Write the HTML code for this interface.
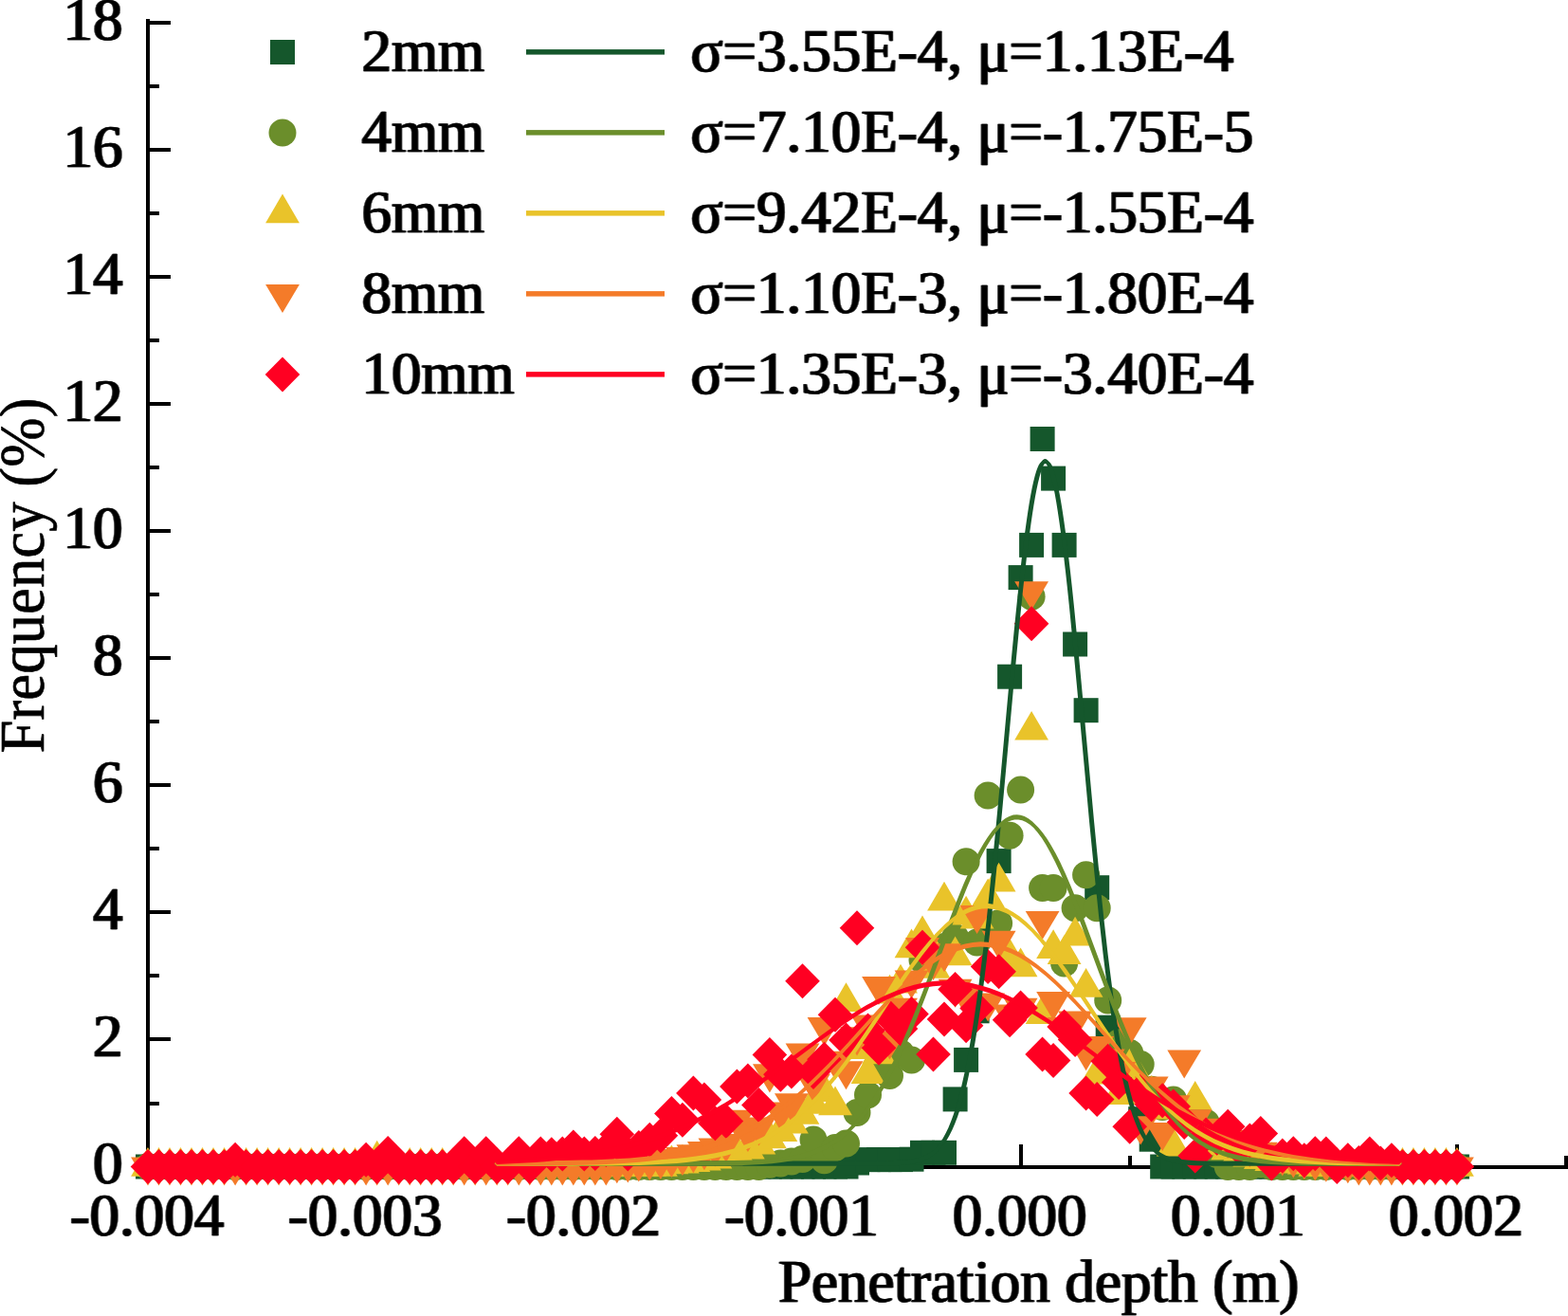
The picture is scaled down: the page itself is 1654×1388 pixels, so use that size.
<!DOCTYPE html>
<html lang="en"><head><meta charset="utf-8"><title>Penetration depth frequency</title>
<style>html,body{margin:0;padding:0;background:#fff;}body{width:1654px;height:1388px;overflow:hidden;}svg{display:block;}text{font-family:"Liberation Serif","DejaVu Serif",serif;font-size:63px;fill:#000;stroke:#000;stroke-width:0.4px;paint-order:stroke;stroke-linejoin:round;}</style></head><body>
<svg width="1654" height="1388" viewBox="0 0 1654 1388">
<defs><filter id="hb" x="-10%" y="-10%" width="120%" height="120%"><feMorphology in="SourceGraphic" operator="dilate" radius="1 0" result="d"/><feComponentTransfer in="d" result="e"><feFuncA type="linear" slope="0.8"/></feComponentTransfer><feMerge><feMergeNode in="e"/><feMergeNode in="SourceGraphic"/></feMerge></filter></defs>
<rect x="0" y="0" width="1654" height="1388" fill="#fff"/>
<g id="axes" fill="#000" shape-rendering="crispEdges">
<rect x="154" y="20" width="4" height="1212.5"/>
<rect x="154" y="1228.5" width="1500" height="4"/>
<rect x="158" y="1228.5" width="22" height="4"/>
<rect x="158" y="1161.5" width="10" height="4"/>
<rect x="158" y="1094.4" width="22" height="4"/>
<rect x="158" y="1027.4" width="10" height="4"/>
<rect x="158" y="960.4" width="22" height="4"/>
<rect x="158" y="893.4" width="10" height="4"/>
<rect x="158" y="826.3" width="22" height="4"/>
<rect x="158" y="759.3" width="10" height="4"/>
<rect x="158" y="692.3" width="22" height="4"/>
<rect x="158" y="625.2" width="10" height="4"/>
<rect x="158" y="558.2" width="22" height="4"/>
<rect x="158" y="491.2" width="10" height="4"/>
<rect x="158" y="424.1" width="22" height="4"/>
<rect x="158" y="357.1" width="10" height="4"/>
<rect x="158" y="290.1" width="22" height="4"/>
<rect x="158" y="223.0" width="10" height="4"/>
<rect x="158" y="156.0" width="22" height="4"/>
<rect x="158" y="89.0" width="10" height="4"/>
<rect x="158" y="22.0" width="22" height="4"/>
<rect x="154.0" y="1206.5" width="4" height="22"/>
<rect x="269.1" y="1218.5" width="4" height="10"/>
<rect x="384.1" y="1206.5" width="4" height="22"/>
<rect x="499.2" y="1218.5" width="4" height="10"/>
<rect x="614.3" y="1206.5" width="4" height="22"/>
<rect x="729.4" y="1218.5" width="4" height="10"/>
<rect x="844.5" y="1206.5" width="4" height="22"/>
<rect x="959.5" y="1218.5" width="4" height="10"/>
<rect x="1074.6" y="1206.5" width="4" height="22"/>
<rect x="1189.7" y="1218.5" width="4" height="10"/>
<rect x="1304.8" y="1206.5" width="4" height="22"/>
<rect x="1419.8" y="1218.5" width="4" height="10"/>
<rect x="1534.9" y="1206.5" width="4" height="22"/>
<rect x="1650.0" y="1218.5" width="4" height="10"/>
</g>
<g id="ylabels" text-anchor="end" filter="url(#hb)">
<text x="129.5" y="1248.2">0</text>
<text x="129.5" y="1114.1">2</text>
<text x="129.5" y="980.1">4</text>
<text x="129.5" y="846.0">6</text>
<text x="129.5" y="712.0">8</text>
<text x="129.5" y="577.9">10</text>
<text x="129.5" y="443.8">12</text>
<text x="129.5" y="309.8">14</text>
<text x="129.5" y="175.7">16</text>
<text x="129.5" y="41.7">18</text>
</g>
<g id="xlabels" text-anchor="middle" filter="url(#hb)">
<text x="155.0" y="1302.8">-0.004</text>
<text x="385.1" y="1302.8">-0.003</text>
<text x="615.3" y="1302.8">-0.002</text>
<text x="845.5" y="1302.8">-0.001</text>
<text x="1075.6" y="1302.8">0.000</text>
<text x="1305.8" y="1302.8">0.001</text>
<text x="1535.9" y="1302.8">0.002</text>
</g>
<text id="xtitle" filter="url(#hb)" x="820.9" y="1373">Penetration depth (m)</text>
<text id="ytitle" style="stroke-width:0.6px" transform="translate(45.8,794.6) rotate(-90) scale(0.9975,1.08)">Frequency (%)</text>
<g id="pts-s">
<rect x="143.0" y="1217.5" width="26" height="26" fill="#15572c"/>
<rect x="154.5" y="1217.5" width="26" height="26" fill="#15572c"/>
<rect x="166.0" y="1217.5" width="26" height="26" fill="#15572c"/>
<rect x="177.5" y="1217.5" width="26" height="26" fill="#15572c"/>
<rect x="189.0" y="1217.5" width="26" height="26" fill="#15572c"/>
<rect x="200.5" y="1217.5" width="26" height="26" fill="#15572c"/>
<rect x="212.0" y="1217.5" width="26" height="26" fill="#15572c"/>
<rect x="223.6" y="1217.5" width="26" height="26" fill="#15572c"/>
<rect x="235.1" y="1217.5" width="26" height="26" fill="#15572c"/>
<rect x="246.6" y="1217.5" width="26" height="26" fill="#15572c"/>
<rect x="258.1" y="1217.5" width="26" height="26" fill="#15572c"/>
<rect x="269.6" y="1217.5" width="26" height="26" fill="#15572c"/>
<rect x="281.1" y="1217.5" width="26" height="26" fill="#15572c"/>
<rect x="292.6" y="1217.5" width="26" height="26" fill="#15572c"/>
<rect x="304.1" y="1217.5" width="26" height="26" fill="#15572c"/>
<rect x="315.6" y="1217.5" width="26" height="26" fill="#15572c"/>
<rect x="327.1" y="1217.5" width="26" height="26" fill="#15572c"/>
<rect x="338.6" y="1217.5" width="26" height="26" fill="#15572c"/>
<rect x="350.1" y="1217.5" width="26" height="26" fill="#15572c"/>
<rect x="361.6" y="1217.5" width="26" height="26" fill="#15572c"/>
<rect x="373.1" y="1217.5" width="26" height="26" fill="#15572c"/>
<rect x="384.7" y="1217.5" width="26" height="26" fill="#15572c"/>
<rect x="396.2" y="1217.5" width="26" height="26" fill="#15572c"/>
<rect x="407.7" y="1217.5" width="26" height="26" fill="#15572c"/>
<rect x="419.2" y="1217.5" width="26" height="26" fill="#15572c"/>
<rect x="430.7" y="1217.5" width="26" height="26" fill="#15572c"/>
<rect x="442.2" y="1217.5" width="26" height="26" fill="#15572c"/>
<rect x="453.7" y="1217.5" width="26" height="26" fill="#15572c"/>
<rect x="465.2" y="1217.5" width="26" height="26" fill="#15572c"/>
<rect x="476.7" y="1217.5" width="26" height="26" fill="#15572c"/>
<rect x="488.2" y="1217.5" width="26" height="26" fill="#15572c"/>
<rect x="499.7" y="1217.5" width="26" height="26" fill="#15572c"/>
<rect x="511.2" y="1217.5" width="26" height="26" fill="#15572c"/>
<rect x="522.7" y="1217.5" width="26" height="26" fill="#15572c"/>
<rect x="534.3" y="1217.5" width="26" height="26" fill="#15572c"/>
<rect x="545.8" y="1217.5" width="26" height="26" fill="#15572c"/>
<rect x="557.3" y="1217.5" width="26" height="26" fill="#15572c"/>
<rect x="568.8" y="1217.5" width="26" height="26" fill="#15572c"/>
<rect x="580.3" y="1217.5" width="26" height="26" fill="#15572c"/>
<rect x="591.8" y="1217.5" width="26" height="26" fill="#15572c"/>
<rect x="603.3" y="1217.5" width="26" height="26" fill="#15572c"/>
<rect x="614.8" y="1217.5" width="26" height="26" fill="#15572c"/>
<rect x="626.3" y="1217.5" width="26" height="26" fill="#15572c"/>
<rect x="637.8" y="1217.5" width="26" height="26" fill="#15572c"/>
<rect x="649.3" y="1217.5" width="26" height="26" fill="#15572c"/>
<rect x="660.8" y="1217.5" width="26" height="26" fill="#15572c"/>
<rect x="672.3" y="1217.5" width="26" height="26" fill="#15572c"/>
<rect x="683.9" y="1217.5" width="26" height="26" fill="#15572c"/>
<rect x="695.4" y="1217.5" width="26" height="26" fill="#15572c"/>
<rect x="706.9" y="1217.5" width="26" height="26" fill="#15572c"/>
<rect x="718.4" y="1217.5" width="26" height="26" fill="#15572c"/>
<rect x="729.9" y="1217.5" width="26" height="26" fill="#15572c"/>
<rect x="741.4" y="1217.5" width="26" height="26" fill="#15572c"/>
<rect x="752.9" y="1217.5" width="26" height="26" fill="#15572c"/>
<rect x="764.4" y="1217.5" width="26" height="26" fill="#15572c"/>
<rect x="775.9" y="1217.5" width="26" height="26" fill="#15572c"/>
<rect x="787.4" y="1217.5" width="26" height="26" fill="#15572c"/>
<rect x="798.9" y="1217.5" width="26" height="26" fill="#15572c"/>
<rect x="810.4" y="1217.5" width="26" height="26" fill="#15572c"/>
<rect x="821.9" y="1217.5" width="26" height="26" fill="#15572c"/>
<rect x="833.5" y="1217.5" width="26" height="26" fill="#15572c"/>
<rect x="845.0" y="1217.5" width="26" height="26" fill="#15572c"/>
<rect x="856.5" y="1217.5" width="26" height="26" fill="#15572c"/>
<rect x="868.0" y="1217.5" width="26" height="26" fill="#15572c"/>
<rect x="879.5" y="1217.5" width="26" height="26" fill="#15572c"/>
<rect x="891.0" y="1213.5" width="26" height="26" fill="#15572c"/>
<rect x="902.5" y="1210.1" width="26" height="26" fill="#15572c"/>
<rect x="914.0" y="1210.1" width="26" height="26" fill="#15572c"/>
<rect x="925.5" y="1210.1" width="26" height="26" fill="#15572c"/>
<rect x="937.0" y="1210.1" width="26" height="26" fill="#15572c"/>
<rect x="948.5" y="1209.7" width="26" height="26" fill="#15572c"/>
<rect x="960.0" y="1202.8" width="26" height="26" fill="#15572c"/>
<rect x="971.5" y="1202.8" width="26" height="26" fill="#15572c"/>
<rect x="983.0" y="1202.8" width="26" height="26" fill="#15572c"/>
<rect x="994.6" y="1146.4" width="26" height="26" fill="#15572c"/>
<rect x="1006.1" y="1104.9" width="26" height="26" fill="#15572c"/>
<rect x="1017.6" y="1053.3" width="26" height="26" fill="#15572c"/>
<rect x="1029.1" y="962.8" width="26" height="26" fill="#15572c"/>
<rect x="1040.6" y="895.1" width="26" height="26" fill="#15572c"/>
<rect x="1052.1" y="700.7" width="26" height="26" fill="#15572c"/>
<rect x="1063.6" y="596.1" width="26" height="26" fill="#15572c"/>
<rect x="1075.1" y="561.9" width="26" height="26" fill="#15572c"/>
<rect x="1086.6" y="450.0" width="26" height="26" fill="#15572c"/>
<rect x="1098.1" y="491.6" width="26" height="26" fill="#15572c"/>
<rect x="1109.6" y="561.9" width="26" height="26" fill="#15572c"/>
<rect x="1121.1" y="666.5" width="26" height="26" fill="#15572c"/>
<rect x="1132.6" y="736.2" width="26" height="26" fill="#15572c"/>
<rect x="1144.2" y="923.2" width="26" height="26" fill="#15572c"/>
<rect x="1155.7" y="1070.7" width="26" height="26" fill="#15572c"/>
<rect x="1167.2" y="1100.2" width="26" height="26" fill="#15572c"/>
<rect x="1178.7" y="1120.3" width="26" height="26" fill="#15572c"/>
<rect x="1190.2" y="1167.2" width="26" height="26" fill="#15572c"/>
<rect x="1201.7" y="1188.7" width="26" height="26" fill="#15572c"/>
<rect x="1213.2" y="1217.5" width="26" height="26" fill="#15572c"/>
<rect x="1224.7" y="1217.5" width="26" height="26" fill="#15572c"/>
<rect x="1236.2" y="1217.5" width="26" height="26" fill="#15572c"/>
<rect x="1247.7" y="1217.5" width="26" height="26" fill="#15572c"/>
<rect x="1259.2" y="1217.5" width="26" height="26" fill="#15572c"/>
<rect x="1270.7" y="1217.5" width="26" height="26" fill="#15572c"/>
<rect x="1282.2" y="1217.5" width="26" height="26" fill="#15572c"/>
<rect x="1293.8" y="1217.5" width="26" height="26" fill="#15572c"/>
<rect x="1305.3" y="1217.5" width="26" height="26" fill="#15572c"/>
<rect x="1316.8" y="1217.5" width="26" height="26" fill="#15572c"/>
<rect x="1328.3" y="1217.5" width="26" height="26" fill="#15572c"/>
<rect x="1339.8" y="1217.5" width="26" height="26" fill="#15572c"/>
<rect x="1351.3" y="1217.5" width="26" height="26" fill="#15572c"/>
<rect x="1362.8" y="1217.5" width="26" height="26" fill="#15572c"/>
<rect x="1374.3" y="1217.5" width="26" height="26" fill="#15572c"/>
<rect x="1385.8" y="1217.5" width="26" height="26" fill="#15572c"/>
<rect x="1397.3" y="1217.5" width="26" height="26" fill="#15572c"/>
<rect x="1408.8" y="1217.5" width="26" height="26" fill="#15572c"/>
<rect x="1420.3" y="1217.5" width="26" height="26" fill="#15572c"/>
<rect x="1431.8" y="1217.5" width="26" height="26" fill="#15572c"/>
<rect x="1443.3" y="1217.5" width="26" height="26" fill="#15572c"/>
<rect x="1454.9" y="1217.5" width="26" height="26" fill="#15572c"/>
<rect x="1466.4" y="1217.5" width="26" height="26" fill="#15572c"/>
<rect x="1477.9" y="1217.5" width="26" height="26" fill="#15572c"/>
<rect x="1489.4" y="1217.5" width="26" height="26" fill="#15572c"/>
<rect x="1500.9" y="1217.5" width="26" height="26" fill="#15572c"/>
<rect x="1512.4" y="1217.5" width="26" height="26" fill="#15572c"/>
<rect x="1523.9" y="1217.5" width="26" height="26" fill="#15572c"/>
</g>
<g id="pts-c">
<circle cx="156.0" cy="1230.5" r="14.5" fill="#6b8e2b"/>
<circle cx="167.5" cy="1230.5" r="14.5" fill="#6b8e2b"/>
<circle cx="179.0" cy="1230.5" r="14.5" fill="#6b8e2b"/>
<circle cx="190.5" cy="1230.5" r="14.5" fill="#6b8e2b"/>
<circle cx="202.0" cy="1230.5" r="14.5" fill="#6b8e2b"/>
<circle cx="213.5" cy="1230.5" r="14.5" fill="#6b8e2b"/>
<circle cx="225.0" cy="1230.5" r="14.5" fill="#6b8e2b"/>
<circle cx="236.6" cy="1230.5" r="14.5" fill="#6b8e2b"/>
<circle cx="248.1" cy="1230.5" r="14.5" fill="#6b8e2b"/>
<circle cx="259.6" cy="1230.5" r="14.5" fill="#6b8e2b"/>
<circle cx="271.1" cy="1230.5" r="14.5" fill="#6b8e2b"/>
<circle cx="282.6" cy="1230.5" r="14.5" fill="#6b8e2b"/>
<circle cx="294.1" cy="1230.5" r="14.5" fill="#6b8e2b"/>
<circle cx="305.6" cy="1230.5" r="14.5" fill="#6b8e2b"/>
<circle cx="317.1" cy="1230.5" r="14.5" fill="#6b8e2b"/>
<circle cx="328.6" cy="1230.5" r="14.5" fill="#6b8e2b"/>
<circle cx="340.1" cy="1230.5" r="14.5" fill="#6b8e2b"/>
<circle cx="351.6" cy="1230.5" r="14.5" fill="#6b8e2b"/>
<circle cx="363.1" cy="1230.5" r="14.5" fill="#6b8e2b"/>
<circle cx="374.6" cy="1230.5" r="14.5" fill="#6b8e2b"/>
<circle cx="386.1" cy="1230.5" r="14.5" fill="#6b8e2b"/>
<circle cx="397.7" cy="1230.5" r="14.5" fill="#6b8e2b"/>
<circle cx="409.2" cy="1230.5" r="14.5" fill="#6b8e2b"/>
<circle cx="420.7" cy="1230.5" r="14.5" fill="#6b8e2b"/>
<circle cx="432.2" cy="1230.5" r="14.5" fill="#6b8e2b"/>
<circle cx="443.7" cy="1230.5" r="14.5" fill="#6b8e2b"/>
<circle cx="455.2" cy="1230.5" r="14.5" fill="#6b8e2b"/>
<circle cx="466.7" cy="1230.5" r="14.5" fill="#6b8e2b"/>
<circle cx="478.2" cy="1230.5" r="14.5" fill="#6b8e2b"/>
<circle cx="489.7" cy="1230.5" r="14.5" fill="#6b8e2b"/>
<circle cx="501.2" cy="1230.5" r="14.5" fill="#6b8e2b"/>
<circle cx="512.7" cy="1230.5" r="14.5" fill="#6b8e2b"/>
<circle cx="524.2" cy="1230.5" r="14.5" fill="#6b8e2b"/>
<circle cx="535.7" cy="1230.5" r="14.5" fill="#6b8e2b"/>
<circle cx="547.3" cy="1230.5" r="14.5" fill="#6b8e2b"/>
<circle cx="558.8" cy="1230.5" r="14.5" fill="#6b8e2b"/>
<circle cx="570.3" cy="1230.5" r="14.5" fill="#6b8e2b"/>
<circle cx="581.8" cy="1230.5" r="14.5" fill="#6b8e2b"/>
<circle cx="593.3" cy="1230.5" r="14.5" fill="#6b8e2b"/>
<circle cx="604.8" cy="1230.5" r="14.5" fill="#6b8e2b"/>
<circle cx="616.3" cy="1230.5" r="14.5" fill="#6b8e2b"/>
<circle cx="627.8" cy="1230.5" r="14.5" fill="#6b8e2b"/>
<circle cx="639.3" cy="1230.5" r="14.5" fill="#6b8e2b"/>
<circle cx="650.8" cy="1230.5" r="14.5" fill="#6b8e2b"/>
<circle cx="662.3" cy="1230.5" r="14.5" fill="#6b8e2b"/>
<circle cx="673.8" cy="1230.5" r="14.5" fill="#6b8e2b"/>
<circle cx="685.3" cy="1230.5" r="14.5" fill="#6b8e2b"/>
<circle cx="696.9" cy="1230.5" r="14.5" fill="#6b8e2b"/>
<circle cx="708.4" cy="1230.5" r="14.5" fill="#6b8e2b"/>
<circle cx="719.9" cy="1230.5" r="14.5" fill="#6b8e2b"/>
<circle cx="731.4" cy="1230.5" r="14.5" fill="#6b8e2b"/>
<circle cx="742.9" cy="1230.5" r="14.5" fill="#6b8e2b"/>
<circle cx="754.4" cy="1230.5" r="14.5" fill="#6b8e2b"/>
<circle cx="765.9" cy="1230.5" r="14.5" fill="#6b8e2b"/>
<circle cx="777.4" cy="1230.5" r="14.5" fill="#6b8e2b"/>
<circle cx="788.9" cy="1230.5" r="14.5" fill="#6b8e2b"/>
<circle cx="800.4" cy="1230.5" r="14.5" fill="#6b8e2b"/>
<circle cx="811.9" cy="1228.2" r="14.5" fill="#6b8e2b"/>
<circle cx="823.4" cy="1227.0" r="14.5" fill="#6b8e2b"/>
<circle cx="834.9" cy="1225.1" r="14.5" fill="#6b8e2b"/>
<circle cx="846.5" cy="1222.5" r="14.5" fill="#6b8e2b"/>
<circle cx="858.0" cy="1202.0" r="14.5" fill="#6b8e2b"/>
<circle cx="869.5" cy="1223.8" r="14.5" fill="#6b8e2b"/>
<circle cx="881.0" cy="1210.4" r="14.5" fill="#6b8e2b"/>
<circle cx="892.5" cy="1206.0" r="14.5" fill="#6b8e2b"/>
<circle cx="904.0" cy="1173.5" r="14.5" fill="#6b8e2b"/>
<circle cx="915.5" cy="1154.8" r="14.5" fill="#6b8e2b"/>
<circle cx="927.0" cy="1127.9" r="14.5" fill="#6b8e2b"/>
<circle cx="938.5" cy="1134.6" r="14.5" fill="#6b8e2b"/>
<circle cx="950.0" cy="1110.8" r="14.5" fill="#6b8e2b"/>
<circle cx="961.5" cy="1117.9" r="14.5" fill="#6b8e2b"/>
<circle cx="973.0" cy="1012.7" r="14.5" fill="#6b8e2b"/>
<circle cx="984.5" cy="1016.0" r="14.5" fill="#6b8e2b"/>
<circle cx="996.0" cy="998.6" r="14.5" fill="#6b8e2b"/>
<circle cx="1007.6" cy="988.5" r="14.5" fill="#6b8e2b"/>
<circle cx="1019.1" cy="908.8" r="14.5" fill="#6b8e2b"/>
<circle cx="1030.6" cy="993.9" r="14.5" fill="#6b8e2b"/>
<circle cx="1042.1" cy="839.0" r="14.5" fill="#6b8e2b"/>
<circle cx="1053.6" cy="973.8" r="14.5" fill="#6b8e2b"/>
<circle cx="1065.1" cy="881.3" r="14.5" fill="#6b8e2b"/>
<circle cx="1076.6" cy="833.0" r="14.5" fill="#6b8e2b"/>
<circle cx="1088.1" cy="629.2" r="14.5" fill="#6b8e2b"/>
<circle cx="1099.6" cy="936.6" r="14.5" fill="#6b8e2b"/>
<circle cx="1111.1" cy="936.6" r="14.5" fill="#6b8e2b"/>
<circle cx="1122.6" cy="1016.0" r="14.5" fill="#6b8e2b"/>
<circle cx="1134.1" cy="957.7" r="14.5" fill="#6b8e2b"/>
<circle cx="1145.6" cy="922.8" r="14.5" fill="#6b8e2b"/>
<circle cx="1157.2" cy="957.7" r="14.5" fill="#6b8e2b"/>
<circle cx="1168.7" cy="1054.9" r="14.5" fill="#6b8e2b"/>
<circle cx="1180.2" cy="1099.8" r="14.5" fill="#6b8e2b"/>
<circle cx="1191.7" cy="1110.5" r="14.5" fill="#6b8e2b"/>
<circle cx="1203.2" cy="1122.6" r="14.5" fill="#6b8e2b"/>
<circle cx="1214.7" cy="1149.3" r="14.5" fill="#6b8e2b"/>
<circle cx="1226.2" cy="1167.6" r="14.5" fill="#6b8e2b"/>
<circle cx="1237.7" cy="1160.1" r="14.5" fill="#6b8e2b"/>
<circle cx="1249.2" cy="1170.2" r="14.5" fill="#6b8e2b"/>
<circle cx="1260.7" cy="1180.2" r="14.5" fill="#6b8e2b"/>
<circle cx="1272.2" cy="1184.2" r="14.5" fill="#6b8e2b"/>
<circle cx="1283.7" cy="1217.4" r="14.5" fill="#6b8e2b"/>
<circle cx="1295.2" cy="1230.5" r="14.5" fill="#6b8e2b"/>
<circle cx="1306.8" cy="1230.5" r="14.5" fill="#6b8e2b"/>
<circle cx="1318.3" cy="1230.5" r="14.5" fill="#6b8e2b"/>
<circle cx="1329.8" cy="1227.9" r="14.5" fill="#6b8e2b"/>
<circle cx="1341.3" cy="1230.5" r="14.5" fill="#6b8e2b"/>
<circle cx="1352.8" cy="1230.5" r="14.5" fill="#6b8e2b"/>
<circle cx="1364.3" cy="1230.5" r="14.5" fill="#6b8e2b"/>
<circle cx="1375.8" cy="1230.5" r="14.5" fill="#6b8e2b"/>
<circle cx="1387.3" cy="1230.5" r="14.5" fill="#6b8e2b"/>
<circle cx="1398.8" cy="1230.5" r="14.5" fill="#6b8e2b"/>
<circle cx="1410.3" cy="1230.5" r="14.5" fill="#6b8e2b"/>
<circle cx="1421.8" cy="1230.5" r="14.5" fill="#6b8e2b"/>
<circle cx="1433.3" cy="1230.5" r="14.5" fill="#6b8e2b"/>
<circle cx="1444.8" cy="1230.5" r="14.5" fill="#6b8e2b"/>
<circle cx="1456.3" cy="1230.5" r="14.5" fill="#6b8e2b"/>
<circle cx="1467.9" cy="1230.5" r="14.5" fill="#6b8e2b"/>
<circle cx="1479.4" cy="1230.5" r="14.5" fill="#6b8e2b"/>
<circle cx="1490.9" cy="1230.5" r="14.5" fill="#6b8e2b"/>
<circle cx="1502.4" cy="1230.5" r="14.5" fill="#6b8e2b"/>
<circle cx="1513.9" cy="1230.5" r="14.5" fill="#6b8e2b"/>
<circle cx="1525.4" cy="1230.5" r="14.5" fill="#6b8e2b"/>
<circle cx="1536.9" cy="1230.5" r="14.5" fill="#6b8e2b"/>
</g>
<g id="pts-u">
<polygon points="156.0,1210.1 173.9,1240.8 138.1,1240.8" fill="#e9c32a"/>
<polygon points="167.5,1210.1 185.4,1240.8 149.6,1240.8" fill="#e9c32a"/>
<polygon points="179.0,1210.1 196.9,1240.8 161.1,1240.8" fill="#e9c32a"/>
<polygon points="190.5,1210.1 208.4,1240.8 172.6,1240.8" fill="#e9c32a"/>
<polygon points="202.0,1210.1 219.9,1240.8 184.1,1240.8" fill="#e9c32a"/>
<polygon points="213.5,1210.1 231.4,1240.8 195.6,1240.8" fill="#e9c32a"/>
<polygon points="225.0,1210.1 242.9,1240.8 207.1,1240.8" fill="#e9c32a"/>
<polygon points="236.6,1210.1 254.5,1240.8 218.7,1240.8" fill="#e9c32a"/>
<polygon points="248.1,1210.1 266.0,1240.8 230.2,1240.8" fill="#e9c32a"/>
<polygon points="259.6,1210.1 277.5,1240.8 241.7,1240.8" fill="#e9c32a"/>
<polygon points="271.1,1210.1 289.0,1240.8 253.2,1240.8" fill="#e9c32a"/>
<polygon points="282.6,1210.1 300.5,1240.8 264.7,1240.8" fill="#e9c32a"/>
<polygon points="294.1,1210.1 312.0,1240.8 276.2,1240.8" fill="#e9c32a"/>
<polygon points="305.6,1210.1 323.5,1240.8 287.7,1240.8" fill="#e9c32a"/>
<polygon points="317.1,1210.1 335.0,1240.8 299.2,1240.8" fill="#e9c32a"/>
<polygon points="328.6,1210.1 346.5,1240.8 310.7,1240.8" fill="#e9c32a"/>
<polygon points="340.1,1210.1 358.0,1240.8 322.2,1240.8" fill="#e9c32a"/>
<polygon points="351.6,1210.1 369.5,1240.8 333.7,1240.8" fill="#e9c32a"/>
<polygon points="363.1,1210.1 381.0,1240.8 345.2,1240.8" fill="#e9c32a"/>
<polygon points="374.6,1210.1 392.5,1240.8 356.7,1240.8" fill="#e9c32a"/>
<polygon points="386.1,1210.1 404.0,1240.8 368.2,1240.8" fill="#e9c32a"/>
<polygon points="397.7,1202.7 415.6,1233.4 379.8,1233.4" fill="#e9c32a"/>
<polygon points="409.2,1210.1 427.1,1240.8 391.3,1240.8" fill="#e9c32a"/>
<polygon points="420.7,1210.1 438.6,1240.8 402.8,1240.8" fill="#e9c32a"/>
<polygon points="432.2,1210.1 450.1,1240.8 414.3,1240.8" fill="#e9c32a"/>
<polygon points="443.7,1210.1 461.6,1240.8 425.8,1240.8" fill="#e9c32a"/>
<polygon points="455.2,1210.1 473.1,1240.8 437.3,1240.8" fill="#e9c32a"/>
<polygon points="466.7,1210.1 484.6,1240.8 448.8,1240.8" fill="#e9c32a"/>
<polygon points="478.2,1210.1 496.1,1240.8 460.3,1240.8" fill="#e9c32a"/>
<polygon points="489.7,1210.1 507.6,1240.8 471.8,1240.8" fill="#e9c32a"/>
<polygon points="501.2,1210.1 519.1,1240.8 483.3,1240.8" fill="#e9c32a"/>
<polygon points="512.7,1210.1 530.6,1240.8 494.8,1240.8" fill="#e9c32a"/>
<polygon points="524.2,1210.1 542.1,1240.8 506.3,1240.8" fill="#e9c32a"/>
<polygon points="535.7,1210.1 553.6,1240.8 517.8,1240.8" fill="#e9c32a"/>
<polygon points="547.3,1210.1 565.2,1240.8 529.4,1240.8" fill="#e9c32a"/>
<polygon points="558.8,1210.1 576.7,1240.8 540.9,1240.8" fill="#e9c32a"/>
<polygon points="570.3,1210.1 588.2,1240.8 552.4,1240.8" fill="#e9c32a"/>
<polygon points="581.8,1210.1 599.7,1240.8 563.9,1240.8" fill="#e9c32a"/>
<polygon points="593.3,1210.1 611.2,1240.8 575.4,1240.8" fill="#e9c32a"/>
<polygon points="604.8,1210.1 622.7,1240.8 586.9,1240.8" fill="#e9c32a"/>
<polygon points="616.3,1210.1 634.2,1240.8 598.4,1240.8" fill="#e9c32a"/>
<polygon points="627.8,1210.1 645.7,1240.8 609.9,1240.8" fill="#e9c32a"/>
<polygon points="639.3,1210.1 657.2,1240.8 621.4,1240.8" fill="#e9c32a"/>
<polygon points="650.8,1210.1 668.7,1240.8 632.9,1240.8" fill="#e9c32a"/>
<polygon points="662.3,1210.1 680.2,1240.8 644.4,1240.8" fill="#e9c32a"/>
<polygon points="673.8,1210.1 691.7,1240.8 655.9,1240.8" fill="#e9c32a"/>
<polygon points="685.3,1210.1 703.2,1240.8 667.4,1240.8" fill="#e9c32a"/>
<polygon points="696.9,1210.1 714.8,1240.8 679.0,1240.8" fill="#e9c32a"/>
<polygon points="708.4,1207.6 726.3,1238.3 690.5,1238.3" fill="#e9c32a"/>
<polygon points="719.9,1206.7 737.8,1237.4 702.0,1237.4" fill="#e9c32a"/>
<polygon points="731.4,1205.4 749.3,1236.1 713.5,1236.1" fill="#e9c32a"/>
<polygon points="742.9,1203.8 760.8,1234.5 725.0,1234.5" fill="#e9c32a"/>
<polygon points="754.4,1201.7 772.3,1232.4 736.5,1232.4" fill="#e9c32a"/>
<polygon points="765.9,1199.1 783.8,1229.8 748.0,1229.8" fill="#e9c32a"/>
<polygon points="777.4,1195.8 795.3,1226.5 759.5,1226.5" fill="#e9c32a"/>
<polygon points="788.9,1191.7 806.8,1222.4 771.0,1222.4" fill="#e9c32a"/>
<polygon points="800.4,1186.7 818.3,1217.4 782.5,1217.4" fill="#e9c32a"/>
<polygon points="811.9,1180.6 829.8,1211.3 794.0,1211.3" fill="#e9c32a"/>
<polygon points="823.4,1173.4 841.3,1204.1 805.5,1204.1" fill="#e9c32a"/>
<polygon points="834.9,1164.9 852.8,1195.6 817.0,1195.6" fill="#e9c32a"/>
<polygon points="846.5,1155.1 864.4,1185.8 828.6,1185.8" fill="#e9c32a"/>
<polygon points="858.0,1144.0 875.9,1174.7 840.1,1174.7" fill="#e9c32a"/>
<polygon points="869.5,1131.4 887.4,1162.1 851.6,1162.1" fill="#e9c32a"/>
<polygon points="881.0,1145.6 898.9,1176.3 863.1,1176.3" fill="#e9c32a"/>
<polygon points="892.5,1036.2 910.4,1066.9 874.6,1066.9" fill="#e9c32a"/>
<polygon points="904.0,1086.4 921.9,1117.1 886.1,1117.1" fill="#e9c32a"/>
<polygon points="915.5,1112.2 933.4,1142.9 897.6,1142.9" fill="#e9c32a"/>
<polygon points="927.0,1091.5 944.9,1122.2 909.1,1122.2" fill="#e9c32a"/>
<polygon points="938.5,1027.8 956.4,1058.5 920.6,1058.5" fill="#e9c32a"/>
<polygon points="950.0,1016.8 967.9,1047.5 932.1,1047.5" fill="#e9c32a"/>
<polygon points="961.5,979.5 979.4,1010.2 943.6,1010.2" fill="#e9c32a"/>
<polygon points="973.0,965.4 990.9,996.1 955.1,996.1" fill="#e9c32a"/>
<polygon points="984.5,1001.0 1002.4,1031.7 966.6,1031.7" fill="#e9c32a"/>
<polygon points="996.0,929.7 1013.9,960.4 978.1,960.4" fill="#e9c32a"/>
<polygon points="1007.6,987.6 1025.5,1018.3 989.7,1018.3" fill="#e9c32a"/>
<polygon points="1019.1,944.7 1037.0,975.4 1001.2,975.4" fill="#e9c32a"/>
<polygon points="1030.6,948.7 1048.5,979.4 1012.7,979.4" fill="#e9c32a"/>
<polygon points="1042.1,926.6 1060.0,957.3 1024.2,957.3" fill="#e9c32a"/>
<polygon points="1053.6,909.8 1071.5,940.5 1035.7,940.5" fill="#e9c32a"/>
<polygon points="1065.1,989.6 1083.0,1020.3 1047.2,1020.3" fill="#e9c32a"/>
<polygon points="1076.6,999.6 1094.5,1030.3 1058.7,1030.3" fill="#e9c32a"/>
<polygon points="1088.1,749.9 1106.0,780.6 1070.2,780.6" fill="#e9c32a"/>
<polygon points="1099.6,1049.2 1117.5,1079.9 1081.7,1079.9" fill="#e9c32a"/>
<polygon points="1111.1,980.2 1129.0,1010.9 1093.2,1010.9" fill="#e9c32a"/>
<polygon points="1122.6,986.2 1140.5,1016.9 1104.7,1016.9" fill="#e9c32a"/>
<polygon points="1134.1,966.8 1152.0,997.5 1116.2,997.5" fill="#e9c32a"/>
<polygon points="1145.6,1021.1 1163.5,1051.8 1127.7,1051.8" fill="#e9c32a"/>
<polygon points="1157.2,1112.9 1175.1,1143.6 1139.3,1143.6" fill="#e9c32a"/>
<polygon points="1168.7,1109.6 1186.6,1140.3 1150.8,1140.3" fill="#e9c32a"/>
<polygon points="1180.2,1134.4 1198.1,1165.1 1162.3,1165.1" fill="#e9c32a"/>
<polygon points="1191.7,1105.6 1209.6,1136.3 1173.8,1136.3" fill="#e9c32a"/>
<polygon points="1203.2,1120.5 1221.1,1151.2 1185.3,1151.2" fill="#e9c32a"/>
<polygon points="1214.7,1134.1 1232.6,1164.8 1196.8,1164.8" fill="#e9c32a"/>
<polygon points="1226.2,1149.8 1244.1,1180.5 1208.3,1180.5" fill="#e9c32a"/>
<polygon points="1237.7,1188.7 1255.6,1219.4 1219.8,1219.4" fill="#e9c32a"/>
<polygon points="1249.2,1159.8 1267.1,1190.5 1231.3,1190.5" fill="#e9c32a"/>
<polygon points="1260.7,1139.9 1278.6,1170.6 1242.8,1170.6" fill="#e9c32a"/>
<polygon points="1272.2,1181.9 1290.1,1212.6 1254.3,1212.6" fill="#e9c32a"/>
<polygon points="1283.7,1187.7 1301.6,1218.4 1265.8,1218.4" fill="#e9c32a"/>
<polygon points="1295.2,1192.6 1313.1,1223.3 1277.3,1223.3" fill="#e9c32a"/>
<polygon points="1306.8,1196.5 1324.7,1227.2 1288.8,1227.2" fill="#e9c32a"/>
<polygon points="1318.3,1199.7 1336.2,1230.4 1300.4,1230.4" fill="#e9c32a"/>
<polygon points="1329.8,1202.2 1347.7,1232.9 1311.9,1232.9" fill="#e9c32a"/>
<polygon points="1341.3,1204.2 1359.2,1234.9 1323.4,1234.9" fill="#e9c32a"/>
<polygon points="1352.8,1205.7 1370.7,1236.4 1334.9,1236.4" fill="#e9c32a"/>
<polygon points="1364.3,1206.9 1382.2,1237.6 1346.4,1237.6" fill="#e9c32a"/>
<polygon points="1375.8,1207.8 1393.7,1238.5 1357.9,1238.5" fill="#e9c32a"/>
<polygon points="1387.3,1210.1 1405.2,1240.8 1369.4,1240.8" fill="#e9c32a"/>
<polygon points="1398.8,1210.1 1416.7,1240.8 1380.9,1240.8" fill="#e9c32a"/>
<polygon points="1410.3,1210.1 1428.2,1240.8 1392.4,1240.8" fill="#e9c32a"/>
<polygon points="1421.8,1210.1 1439.7,1240.8 1403.9,1240.8" fill="#e9c32a"/>
<polygon points="1433.3,1210.1 1451.2,1240.8 1415.4,1240.8" fill="#e9c32a"/>
<polygon points="1444.8,1210.1 1462.7,1240.8 1426.9,1240.8" fill="#e9c32a"/>
<polygon points="1456.3,1210.1 1474.2,1240.8 1438.4,1240.8" fill="#e9c32a"/>
<polygon points="1467.9,1210.1 1485.8,1240.8 1450.0,1240.8" fill="#e9c32a"/>
<polygon points="1479.4,1210.1 1497.3,1240.8 1461.5,1240.8" fill="#e9c32a"/>
<polygon points="1490.9,1210.1 1508.8,1240.8 1473.0,1240.8" fill="#e9c32a"/>
<polygon points="1502.4,1210.1 1520.3,1240.8 1484.5,1240.8" fill="#e9c32a"/>
<polygon points="1513.9,1210.1 1531.8,1240.8 1496.0,1240.8" fill="#e9c32a"/>
<polygon points="1525.4,1210.1 1543.3,1240.8 1507.5,1240.8" fill="#e9c32a"/>
<polygon points="1536.9,1210.1 1554.8,1240.8 1519.0,1240.8" fill="#e9c32a"/>
</g>
<g id="pts-d">
<polygon points="156.0,1250.5 173.9,1220.4 138.1,1220.4" fill="#f47b29"/>
<polygon points="167.5,1250.5 185.4,1220.4 149.6,1220.4" fill="#f47b29"/>
<polygon points="179.0,1250.5 196.9,1220.4 161.1,1220.4" fill="#f47b29"/>
<polygon points="190.5,1250.5 208.4,1220.4 172.6,1220.4" fill="#f47b29"/>
<polygon points="202.0,1250.5 219.9,1220.4 184.1,1220.4" fill="#f47b29"/>
<polygon points="213.5,1250.5 231.4,1220.4 195.6,1220.4" fill="#f47b29"/>
<polygon points="225.0,1250.5 242.9,1220.4 207.1,1220.4" fill="#f47b29"/>
<polygon points="236.6,1250.5 254.5,1220.4 218.7,1220.4" fill="#f47b29"/>
<polygon points="248.1,1250.5 266.0,1220.4 230.2,1220.4" fill="#f47b29"/>
<polygon points="259.6,1250.5 277.5,1220.4 241.7,1220.4" fill="#f47b29"/>
<polygon points="271.1,1250.5 289.0,1220.4 253.2,1220.4" fill="#f47b29"/>
<polygon points="282.6,1250.5 300.5,1220.4 264.7,1220.4" fill="#f47b29"/>
<polygon points="294.1,1250.5 312.0,1220.4 276.2,1220.4" fill="#f47b29"/>
<polygon points="305.6,1250.5 323.5,1220.4 287.7,1220.4" fill="#f47b29"/>
<polygon points="317.1,1250.5 335.0,1220.4 299.2,1220.4" fill="#f47b29"/>
<polygon points="328.6,1250.5 346.5,1220.4 310.7,1220.4" fill="#f47b29"/>
<polygon points="340.1,1250.5 358.0,1220.4 322.2,1220.4" fill="#f47b29"/>
<polygon points="351.6,1250.5 369.5,1220.4 333.7,1220.4" fill="#f47b29"/>
<polygon points="363.1,1250.5 381.0,1220.4 345.2,1220.4" fill="#f47b29"/>
<polygon points="374.6,1250.5 392.5,1220.4 356.7,1220.4" fill="#f47b29"/>
<polygon points="386.1,1250.5 404.0,1220.4 368.2,1220.4" fill="#f47b29"/>
<polygon points="397.7,1250.5 415.6,1220.4 379.8,1220.4" fill="#f47b29"/>
<polygon points="409.2,1250.5 427.1,1220.4 391.3,1220.4" fill="#f47b29"/>
<polygon points="420.7,1250.5 438.6,1220.4 402.8,1220.4" fill="#f47b29"/>
<polygon points="432.2,1250.5 450.1,1220.4 414.3,1220.4" fill="#f47b29"/>
<polygon points="443.7,1250.5 461.6,1220.4 425.8,1220.4" fill="#f47b29"/>
<polygon points="455.2,1250.5 473.1,1220.4 437.3,1220.4" fill="#f47b29"/>
<polygon points="466.7,1250.5 484.6,1220.4 448.8,1220.4" fill="#f47b29"/>
<polygon points="478.2,1250.5 496.1,1220.4 460.3,1220.4" fill="#f47b29"/>
<polygon points="489.7,1250.5 507.6,1220.4 471.8,1220.4" fill="#f47b29"/>
<polygon points="501.2,1250.5 519.1,1220.4 483.3,1220.4" fill="#f47b29"/>
<polygon points="512.7,1250.5 530.6,1220.4 494.8,1220.4" fill="#f47b29"/>
<polygon points="524.2,1250.5 542.1,1220.4 506.3,1220.4" fill="#f47b29"/>
<polygon points="535.7,1250.5 553.6,1220.4 517.8,1220.4" fill="#f47b29"/>
<polygon points="547.3,1250.5 565.2,1220.4 529.4,1220.4" fill="#f47b29"/>
<polygon points="558.8,1250.5 576.7,1220.4 540.9,1220.4" fill="#f47b29"/>
<polygon points="570.3,1250.5 588.2,1220.4 552.4,1220.4" fill="#f47b29"/>
<polygon points="581.8,1250.5 599.7,1220.4 563.9,1220.4" fill="#f47b29"/>
<polygon points="593.3,1250.5 611.2,1220.4 575.4,1220.4" fill="#f47b29"/>
<polygon points="604.8,1250.5 622.7,1220.4 586.9,1220.4" fill="#f47b29"/>
<polygon points="616.3,1250.5 634.2,1220.4 598.4,1220.4" fill="#f47b29"/>
<polygon points="627.8,1250.5 645.7,1220.4 609.9,1220.4" fill="#f47b29"/>
<polygon points="639.3,1250.5 657.2,1220.4 621.4,1220.4" fill="#f47b29"/>
<polygon points="650.8,1248.2 668.7,1218.1 632.9,1218.1" fill="#f47b29"/>
<polygon points="662.3,1247.4 680.2,1217.3 644.4,1217.3" fill="#f47b29"/>
<polygon points="673.8,1246.5 691.7,1216.4 655.9,1216.4" fill="#f47b29"/>
<polygon points="685.3,1245.3 703.2,1215.2 667.4,1215.2" fill="#f47b29"/>
<polygon points="696.9,1243.9 714.8,1213.8 679.0,1213.8" fill="#f47b29"/>
<polygon points="708.4,1242.1 726.3,1212.0 690.5,1212.0" fill="#f47b29"/>
<polygon points="719.9,1240.0 737.8,1209.9 702.0,1209.9" fill="#f47b29"/>
<polygon points="731.4,1237.3 749.3,1207.2 713.5,1207.2" fill="#f47b29"/>
<polygon points="742.9,1234.2 760.8,1204.1 725.0,1204.1" fill="#f47b29"/>
<polygon points="754.4,1230.5 772.3,1200.4 736.5,1200.4" fill="#f47b29"/>
<polygon points="765.9,1226.1 783.8,1196.0 748.0,1196.0" fill="#f47b29"/>
<polygon points="777.4,1200.9 795.3,1170.8 759.5,1170.8" fill="#f47b29"/>
<polygon points="788.9,1215.1 806.8,1185.0 771.0,1185.0" fill="#f47b29"/>
<polygon points="800.4,1208.5 818.3,1178.4 782.5,1178.4" fill="#f47b29"/>
<polygon points="811.9,1152.4 829.8,1122.3 794.0,1122.3" fill="#f47b29"/>
<polygon points="823.4,1192.6 841.3,1162.5 805.5,1162.5" fill="#f47b29"/>
<polygon points="834.9,1183.4 852.8,1153.3 817.0,1153.3" fill="#f47b29"/>
<polygon points="846.5,1130.5 864.4,1100.4 828.6,1100.4" fill="#f47b29"/>
<polygon points="858.0,1162.5 875.9,1132.4 840.1,1132.4" fill="#f47b29"/>
<polygon points="869.5,1103.2 887.4,1073.1 851.6,1073.1" fill="#f47b29"/>
<polygon points="881.0,1138.8 898.9,1108.7 863.1,1108.7" fill="#f47b29"/>
<polygon points="892.5,1149.3 910.4,1119.2 874.6,1119.2" fill="#f47b29"/>
<polygon points="904.0,1113.4 921.9,1083.3 886.1,1083.3" fill="#f47b29"/>
<polygon points="915.5,1100.5 933.4,1070.4 897.6,1070.4" fill="#f47b29"/>
<polygon points="927.0,1060.1 944.9,1030.0 909.1,1030.0" fill="#f47b29"/>
<polygon points="938.5,1117.5 956.4,1087.4 920.6,1087.4" fill="#f47b29"/>
<polygon points="950.0,1082.9 967.9,1052.8 932.1,1052.8" fill="#f47b29"/>
<polygon points="961.5,1053.6 979.4,1023.5 943.6,1023.5" fill="#f47b29"/>
<polygon points="973.0,1019.2 990.9,989.1 955.1,989.1" fill="#f47b29"/>
<polygon points="984.5,1033.9 1002.4,1003.8 966.6,1003.8" fill="#f47b29"/>
<polygon points="996.0,1025.3 1013.9,995.2 978.1,995.2" fill="#f47b29"/>
<polygon points="1007.6,1062.8 1025.5,1032.7 989.7,1032.7" fill="#f47b29"/>
<polygon points="1019.1,1071.5 1037.0,1041.4 1001.2,1041.4" fill="#f47b29"/>
<polygon points="1030.6,985.1 1048.5,955.0 1012.7,955.0" fill="#f47b29"/>
<polygon points="1042.1,1077.6 1060.0,1047.5 1024.2,1047.5" fill="#f47b29"/>
<polygon points="1053.6,1011.9 1071.5,981.8 1035.7,981.8" fill="#f47b29"/>
<polygon points="1065.1,1089.6 1083.0,1059.5 1047.2,1059.5" fill="#f47b29"/>
<polygon points="1076.6,1082.9 1094.5,1052.8 1058.7,1052.8" fill="#f47b29"/>
<polygon points="1088.1,643.3 1106.0,613.2 1070.2,613.2" fill="#f47b29"/>
<polygon points="1099.6,991.1 1117.5,961.0 1081.7,961.0" fill="#f47b29"/>
<polygon points="1111.1,1076.2 1129.0,1046.1 1093.2,1046.1" fill="#f47b29"/>
<polygon points="1122.6,1103.0 1140.5,1072.9 1104.7,1072.9" fill="#f47b29"/>
<polygon points="1134.1,1096.7 1152.0,1066.6 1116.2,1066.6" fill="#f47b29"/>
<polygon points="1145.6,1129.2 1163.5,1099.1 1127.7,1099.1" fill="#f47b29"/>
<polygon points="1157.2,1123.1 1175.1,1093.0 1139.3,1093.0" fill="#f47b29"/>
<polygon points="1168.7,1136.5 1186.6,1106.4 1150.8,1106.4" fill="#f47b29"/>
<polygon points="1180.2,1150.0 1198.1,1119.9 1162.3,1119.9" fill="#f47b29"/>
<polygon points="1191.7,1103.3 1209.6,1073.2 1173.8,1073.2" fill="#f47b29"/>
<polygon points="1203.2,1207.4 1221.1,1177.3 1185.3,1177.3" fill="#f47b29"/>
<polygon points="1214.7,1165.5 1232.6,1135.4 1196.8,1135.4" fill="#f47b29"/>
<polygon points="1226.2,1214.0 1244.1,1183.9 1208.3,1183.9" fill="#f47b29"/>
<polygon points="1237.7,1185.3 1255.6,1155.2 1219.8,1155.2" fill="#f47b29"/>
<polygon points="1249.2,1137.5 1267.1,1107.4 1231.3,1107.4" fill="#f47b29"/>
<polygon points="1260.7,1200.3 1278.6,1170.2 1242.8,1170.2" fill="#f47b29"/>
<polygon points="1272.2,1209.9 1290.1,1179.8 1254.3,1179.8" fill="#f47b29"/>
<polygon points="1283.7,1216.4 1301.6,1186.3 1265.8,1186.3" fill="#f47b29"/>
<polygon points="1295.2,1222.1 1313.1,1192.0 1277.3,1192.0" fill="#f47b29"/>
<polygon points="1306.8,1227.0 1324.7,1196.9 1288.8,1196.9" fill="#f47b29"/>
<polygon points="1318.3,1231.3 1336.2,1201.2 1300.4,1201.2" fill="#f47b29"/>
<polygon points="1329.8,1234.9 1347.7,1204.8 1311.9,1204.8" fill="#f47b29"/>
<polygon points="1341.3,1237.9 1359.2,1207.8 1323.4,1207.8" fill="#f47b29"/>
<polygon points="1352.8,1240.4 1370.7,1210.3 1334.9,1210.3" fill="#f47b29"/>
<polygon points="1364.3,1242.5 1382.2,1212.4 1346.4,1212.4" fill="#f47b29"/>
<polygon points="1375.8,1244.2 1393.7,1214.1 1357.9,1214.1" fill="#f47b29"/>
<polygon points="1387.3,1245.6 1405.2,1215.5 1369.4,1215.5" fill="#f47b29"/>
<polygon points="1398.8,1246.7 1416.7,1216.6 1380.9,1216.6" fill="#f47b29"/>
<polygon points="1410.3,1247.6 1428.2,1217.5 1392.4,1217.5" fill="#f47b29"/>
<polygon points="1421.8,1248.3 1439.7,1218.2 1403.9,1218.2" fill="#f47b29"/>
<polygon points="1433.3,1250.5 1451.2,1220.4 1415.4,1220.4" fill="#f47b29"/>
<polygon points="1444.8,1250.5 1462.7,1220.4 1426.9,1220.4" fill="#f47b29"/>
<polygon points="1456.3,1250.5 1474.2,1220.4 1438.4,1220.4" fill="#f47b29"/>
<polygon points="1467.9,1250.5 1485.8,1220.4 1450.0,1220.4" fill="#f47b29"/>
<polygon points="1479.4,1250.5 1497.3,1220.4 1461.5,1220.4" fill="#f47b29"/>
<polygon points="1490.9,1250.5 1508.8,1220.4 1473.0,1220.4" fill="#f47b29"/>
<polygon points="1502.4,1250.5 1520.3,1220.4 1484.5,1220.4" fill="#f47b29"/>
<polygon points="1513.9,1250.5 1531.8,1220.4 1496.0,1220.4" fill="#f47b29"/>
<polygon points="1525.4,1250.5 1543.3,1220.4 1507.5,1220.4" fill="#f47b29"/>
<polygon points="1536.9,1250.5 1554.8,1220.4 1519.0,1220.4" fill="#f47b29"/>
</g>
<g id="pts-r">
<polygon points="156.0,1212.0 174.3,1230.5 156.0,1249.0 137.7,1230.5" fill="#ff0022"/>
<polygon points="167.5,1212.0 185.8,1230.5 167.5,1249.0 149.2,1230.5" fill="#ff0022"/>
<polygon points="179.0,1212.0 197.3,1230.5 179.0,1249.0 160.7,1230.5" fill="#ff0022"/>
<polygon points="190.5,1212.0 208.8,1230.5 190.5,1249.0 172.2,1230.5" fill="#ff0022"/>
<polygon points="202.0,1212.0 220.3,1230.5 202.0,1249.0 183.7,1230.5" fill="#ff0022"/>
<polygon points="213.5,1212.0 231.8,1230.5 213.5,1249.0 195.2,1230.5" fill="#ff0022"/>
<polygon points="225.0,1212.0 243.3,1230.5 225.0,1249.0 206.7,1230.5" fill="#ff0022"/>
<polygon points="236.6,1212.0 254.9,1230.5 236.6,1249.0 218.3,1230.5" fill="#ff0022"/>
<polygon points="248.1,1204.8 266.4,1223.3 248.1,1241.8 229.8,1223.3" fill="#ff0022"/>
<polygon points="259.6,1212.0 277.9,1230.5 259.6,1249.0 241.3,1230.5" fill="#ff0022"/>
<polygon points="271.1,1212.0 289.4,1230.5 271.1,1249.0 252.8,1230.5" fill="#ff0022"/>
<polygon points="282.6,1212.0 300.9,1230.5 282.6,1249.0 264.3,1230.5" fill="#ff0022"/>
<polygon points="294.1,1212.0 312.4,1230.5 294.1,1249.0 275.8,1230.5" fill="#ff0022"/>
<polygon points="305.6,1212.0 323.9,1230.5 305.6,1249.0 287.3,1230.5" fill="#ff0022"/>
<polygon points="317.1,1212.0 335.4,1230.5 317.1,1249.0 298.8,1230.5" fill="#ff0022"/>
<polygon points="328.6,1212.0 346.9,1230.5 328.6,1249.0 310.3,1230.5" fill="#ff0022"/>
<polygon points="340.1,1212.0 358.4,1230.5 340.1,1249.0 321.8,1230.5" fill="#ff0022"/>
<polygon points="351.6,1212.0 369.9,1230.5 351.6,1249.0 333.3,1230.5" fill="#ff0022"/>
<polygon points="363.1,1212.0 381.4,1230.5 363.1,1249.0 344.8,1230.5" fill="#ff0022"/>
<polygon points="374.6,1212.0 392.9,1230.5 374.6,1249.0 356.3,1230.5" fill="#ff0022"/>
<polygon points="386.1,1204.8 404.4,1223.3 386.1,1241.8 367.8,1223.3" fill="#ff0022"/>
<polygon points="397.7,1212.0 416.0,1230.5 397.7,1249.0 379.4,1230.5" fill="#ff0022"/>
<polygon points="409.2,1197.9 427.5,1216.4 409.2,1234.9 390.9,1216.4" fill="#ff0022"/>
<polygon points="420.7,1212.0 439.0,1230.5 420.7,1249.0 402.4,1230.5" fill="#ff0022"/>
<polygon points="432.2,1212.0 450.5,1230.5 432.2,1249.0 413.9,1230.5" fill="#ff0022"/>
<polygon points="443.7,1212.0 462.0,1230.5 443.7,1249.0 425.4,1230.5" fill="#ff0022"/>
<polygon points="455.2,1212.0 473.5,1230.5 455.2,1249.0 436.9,1230.5" fill="#ff0022"/>
<polygon points="466.7,1212.0 485.0,1230.5 466.7,1249.0 448.4,1230.5" fill="#ff0022"/>
<polygon points="478.2,1212.0 496.5,1230.5 478.2,1249.0 459.9,1230.5" fill="#ff0022"/>
<polygon points="489.7,1198.2 508.0,1216.7 489.7,1235.2 471.4,1216.7" fill="#ff0022"/>
<polygon points="501.2,1212.0 519.5,1230.5 501.2,1249.0 482.9,1230.5" fill="#ff0022"/>
<polygon points="512.7,1198.2 531.0,1216.7 512.7,1235.2 494.4,1216.7" fill="#ff0022"/>
<polygon points="524.2,1212.0 542.5,1230.5 524.2,1249.0 505.9,1230.5" fill="#ff0022"/>
<polygon points="535.7,1212.0 554.0,1230.5 535.7,1249.0 517.4,1230.5" fill="#ff0022"/>
<polygon points="547.3,1198.2 565.6,1216.7 547.3,1235.2 529.0,1216.7" fill="#ff0022"/>
<polygon points="558.8,1212.0 577.1,1230.5 558.8,1249.0 540.5,1230.5" fill="#ff0022"/>
<polygon points="570.3,1198.6 588.6,1217.1 570.3,1235.6 552.0,1217.1" fill="#ff0022"/>
<polygon points="581.8,1199.3 600.1,1217.8 581.8,1236.3 563.5,1217.8" fill="#ff0022"/>
<polygon points="593.3,1198.6 611.6,1217.1 593.3,1235.6 575.0,1217.1" fill="#ff0022"/>
<polygon points="604.8,1191.5 623.1,1210.0 604.8,1228.5 586.5,1210.0" fill="#ff0022"/>
<polygon points="616.3,1198.6 634.6,1217.1 616.3,1235.6 598.0,1217.1" fill="#ff0022"/>
<polygon points="627.8,1197.9 646.1,1216.4 627.8,1234.9 609.5,1216.4" fill="#ff0022"/>
<polygon points="639.3,1193.9 657.6,1212.4 639.3,1230.9 621.0,1212.4" fill="#ff0022"/>
<polygon points="650.8,1177.8 669.1,1196.3 650.8,1214.8 632.5,1196.3" fill="#ff0022"/>
<polygon points="662.3,1198.6 680.6,1217.1 662.3,1235.6 644.0,1217.1" fill="#ff0022"/>
<polygon points="673.8,1191.9 692.1,1210.4 673.8,1228.9 655.5,1210.4" fill="#ff0022"/>
<polygon points="685.3,1183.8 703.6,1202.3 685.3,1220.8 667.0,1202.3" fill="#ff0022"/>
<polygon points="696.9,1179.2 715.2,1197.7 696.9,1216.2 678.6,1197.7" fill="#ff0022"/>
<polygon points="708.4,1155.9 726.7,1174.4 708.4,1192.9 690.1,1174.4" fill="#ff0022"/>
<polygon points="719.9,1162.7 738.2,1181.2 719.9,1199.7 701.6,1181.2" fill="#ff0022"/>
<polygon points="731.4,1134.5 749.7,1153.0 731.4,1171.5 713.1,1153.0" fill="#ff0022"/>
<polygon points="742.9,1141.5 761.2,1160.0 742.9,1178.5 724.6,1160.0" fill="#ff0022"/>
<polygon points="754.4,1166.3 772.7,1184.8 754.4,1203.3 736.1,1184.8" fill="#ff0022"/>
<polygon points="765.9,1164.0 784.2,1182.5 765.9,1201.0 747.6,1182.5" fill="#ff0022"/>
<polygon points="777.4,1127.5 795.7,1146.0 777.4,1164.5 759.1,1146.0" fill="#ff0022"/>
<polygon points="788.9,1121.5 807.2,1140.0 788.9,1158.5 770.6,1140.0" fill="#ff0022"/>
<polygon points="800.4,1147.0 818.7,1165.5 800.4,1184.0 782.1,1165.5" fill="#ff0022"/>
<polygon points="811.9,1094.0 830.2,1112.5 811.9,1131.0 793.6,1112.5" fill="#ff0022"/>
<polygon points="823.4,1114.8 841.7,1133.3 823.4,1151.8 805.1,1133.3" fill="#ff0022"/>
<polygon points="834.9,1111.5 853.2,1130.0 834.9,1148.5 816.6,1130.0" fill="#ff0022"/>
<polygon points="846.5,1016.3 864.8,1034.8 846.5,1053.3 828.2,1034.8" fill="#ff0022"/>
<polygon points="858.0,1112.1 876.3,1130.6 858.0,1149.1 839.7,1130.6" fill="#ff0022"/>
<polygon points="869.5,1098.7 887.8,1117.2 869.5,1135.7 851.2,1117.2" fill="#ff0022"/>
<polygon points="881.0,1051.8 899.3,1070.3 881.0,1088.8 862.7,1070.3" fill="#ff0022"/>
<polygon points="892.5,1078.6 910.8,1097.1 892.5,1115.6 874.2,1097.1" fill="#ff0022"/>
<polygon points="904.0,960.2 922.3,978.7 904.0,997.2 885.7,978.7" fill="#ff0022"/>
<polygon points="915.5,1068.6 933.8,1087.1 915.5,1105.6 897.2,1087.1" fill="#ff0022"/>
<polygon points="927.0,1086.8 945.3,1105.3 927.0,1123.8 908.7,1105.3" fill="#ff0022"/>
<polygon points="938.5,1054.5 956.8,1073.0 938.5,1091.5 920.2,1073.0" fill="#ff0022"/>
<polygon points="950.0,1066.5 968.3,1085.0 950.0,1103.5 931.7,1085.0" fill="#ff0022"/>
<polygon points="961.5,1051.1 979.8,1069.6 961.5,1088.1 943.2,1069.6" fill="#ff0022"/>
<polygon points="973.0,980.7 991.3,999.2 973.0,1017.7 954.7,999.2" fill="#ff0022"/>
<polygon points="984.5,1093.4 1002.8,1111.9 984.5,1130.4 966.2,1111.9" fill="#ff0022"/>
<polygon points="996.0,1056.5 1014.3,1075.0 996.0,1093.5 977.7,1075.0" fill="#ff0022"/>
<polygon points="1007.6,1025.0 1025.9,1043.5 1007.6,1062.0 989.3,1043.5" fill="#ff0022"/>
<polygon points="1019.1,1063.2 1037.4,1081.7 1019.1,1100.2 1000.8,1081.7" fill="#ff0022"/>
<polygon points="1030.6,1045.1 1048.9,1063.6 1030.6,1082.1 1012.3,1063.6" fill="#ff0022"/>
<polygon points="1042.1,1000.9 1060.4,1019.4 1042.1,1037.9 1023.8,1019.4" fill="#ff0022"/>
<polygon points="1053.6,1006.2 1071.9,1024.7 1053.6,1043.2 1035.3,1024.7" fill="#ff0022"/>
<polygon points="1065.1,1057.2 1083.4,1075.7 1065.1,1094.2 1046.8,1075.7" fill="#ff0022"/>
<polygon points="1076.6,1044.4 1094.9,1062.9 1076.6,1081.4 1058.3,1062.9" fill="#ff0022"/>
<polygon points="1088.1,639.2 1106.4,657.7 1088.1,676.2 1069.8,657.7" fill="#ff0022"/>
<polygon points="1099.6,1093.5 1117.9,1112.0 1099.6,1130.5 1081.3,1112.0" fill="#ff0022"/>
<polygon points="1111.1,1099.9 1129.4,1118.4 1111.1,1136.9 1092.8,1118.4" fill="#ff0022"/>
<polygon points="1122.6,1064.5 1140.9,1083.0 1122.6,1101.5 1104.3,1083.0" fill="#ff0022"/>
<polygon points="1134.1,1077.9 1152.4,1096.4 1134.1,1114.9 1115.8,1096.4" fill="#ff0022"/>
<polygon points="1145.6,1134.5 1163.9,1153.0 1145.6,1171.5 1127.3,1153.0" fill="#ff0022"/>
<polygon points="1157.2,1141.1 1175.5,1159.6 1157.2,1178.1 1138.9,1159.6" fill="#ff0022"/>
<polygon points="1168.7,1100.7 1187.0,1119.2 1168.7,1137.7 1150.4,1119.2" fill="#ff0022"/>
<polygon points="1180.2,1122.9 1198.5,1141.4 1180.2,1159.9 1161.9,1141.4" fill="#ff0022"/>
<polygon points="1191.7,1169.8 1210.0,1188.3 1191.7,1206.8 1173.4,1188.3" fill="#ff0022"/>
<polygon points="1203.2,1132.2 1221.5,1150.7 1203.2,1169.2 1184.9,1150.7" fill="#ff0022"/>
<polygon points="1214.7,1146.3 1233.0,1164.8 1214.7,1183.3 1196.4,1164.8" fill="#ff0022"/>
<polygon points="1226.2,1142.3 1244.5,1160.8 1226.2,1179.3 1207.9,1160.8" fill="#ff0022"/>
<polygon points="1237.7,1148.5 1256.0,1167.0 1237.7,1185.5 1219.4,1167.0" fill="#ff0022"/>
<polygon points="1249.2,1165.1 1267.5,1183.6 1249.2,1202.1 1230.9,1183.6" fill="#ff0022"/>
<polygon points="1260.7,1200.6 1279.0,1219.1 1260.7,1237.6 1242.4,1219.1" fill="#ff0022"/>
<polygon points="1272.2,1178.5 1290.5,1197.0 1272.2,1215.5 1253.9,1197.0" fill="#ff0022"/>
<polygon points="1283.7,1181.8 1302.0,1200.3 1283.7,1218.8 1265.4,1200.3" fill="#ff0022"/>
<polygon points="1295.2,1169.8 1313.5,1188.3 1295.2,1206.8 1276.9,1188.3" fill="#ff0022"/>
<polygon points="1306.8,1191.9 1325.0,1210.4 1306.8,1228.9 1288.5,1210.4" fill="#ff0022"/>
<polygon points="1318.3,1184.5 1336.6,1203.0 1318.3,1221.5 1300.0,1203.0" fill="#ff0022"/>
<polygon points="1329.8,1177.1 1348.1,1195.6 1329.8,1214.1 1311.5,1195.6" fill="#ff0022"/>
<polygon points="1341.3,1208.6 1359.6,1227.1 1341.3,1245.6 1323.0,1227.1" fill="#ff0022"/>
<polygon points="1352.8,1200.6 1371.1,1219.1 1352.8,1237.6 1334.5,1219.1" fill="#ff0022"/>
<polygon points="1364.3,1198.2 1382.6,1216.7 1364.3,1235.2 1346.0,1216.7" fill="#ff0022"/>
<polygon points="1375.8,1205.3 1394.1,1223.8 1375.8,1242.3 1357.5,1223.8" fill="#ff0022"/>
<polygon points="1387.3,1198.2 1405.6,1216.7 1387.3,1235.2 1369.0,1216.7" fill="#ff0022"/>
<polygon points="1398.8,1198.6 1417.1,1217.1 1398.8,1235.6 1380.5,1217.1" fill="#ff0022"/>
<polygon points="1410.3,1212.0 1428.6,1230.5 1410.3,1249.0 1392.0,1230.5" fill="#ff0022"/>
<polygon points="1421.8,1205.3 1440.1,1223.8 1421.8,1242.3 1403.5,1223.8" fill="#ff0022"/>
<polygon points="1433.3,1208.0 1451.6,1226.5 1433.3,1245.0 1415.0,1226.5" fill="#ff0022"/>
<polygon points="1444.8,1198.6 1463.1,1217.1 1444.8,1235.6 1426.5,1217.1" fill="#ff0022"/>
<polygon points="1456.3,1208.6 1474.6,1227.1 1456.3,1245.6 1438.0,1227.1" fill="#ff0022"/>
<polygon points="1467.9,1205.3 1486.2,1223.8 1467.9,1242.3 1449.6,1223.8" fill="#ff0022"/>
<polygon points="1479.4,1212.0 1497.7,1230.5 1479.4,1249.0 1461.1,1230.5" fill="#ff0022"/>
<polygon points="1490.9,1212.0 1509.2,1230.5 1490.9,1249.0 1472.6,1230.5" fill="#ff0022"/>
<polygon points="1502.4,1212.0 1520.7,1230.5 1502.4,1249.0 1484.1,1230.5" fill="#ff0022"/>
<polygon points="1513.9,1212.0 1532.2,1230.5 1513.9,1249.0 1495.6,1230.5" fill="#ff0022"/>
<polygon points="1525.4,1212.0 1543.7,1230.5 1525.4,1249.0 1507.1,1230.5" fill="#ff0022"/>
<polygon points="1536.9,1212.0 1555.2,1230.5 1536.9,1249.0 1518.6,1230.5" fill="#ff0022"/>
</g>
<polygon points="521.7,1227.0 524.2,1224.5 534.2,1224.5 544.2,1224.5 554.2,1224.5 564.2,1224.5 574.2,1224.5 584.2,1224.5 594.2,1224.5 604.2,1224.5 614.2,1224.5 624.2,1224.5 634.2,1224.5 644.2,1224.5 654.2,1224.5 664.2,1224.5 674.2,1224.5 684.2,1224.5 694.2,1224.5 704.2,1224.5 714.2,1224.5 724.2,1224.5 734.2,1224.5 744.2,1224.5 754.2,1224.5 764.2,1224.5 774.2,1224.5 784.2,1224.5 794.2,1224.5 804.2,1224.5 814.2,1224.5 824.2,1224.5 834.2,1224.5 844.2,1224.5 854.2,1224.5 864.2,1224.5 874.2,1224.5 884.2,1224.5 894.2,1224.5 904.2,1224.5 914.2,1224.5 924.2,1224.5 934.2,1224.4 944.2,1224.1 954.2,1223.5 963.7,1222.3 970.7,1220.5 976.5,1218.2 981.5,1215.4 985.7,1212.2 988.0,1209.9 991.5,1205.4 994.7,1200.4 997.7,1195.0 1000.5,1189.2 1003.2,1182.5 1005.7,1175.7 1008.2,1168.0 1010.7,1159.4 1013.0,1150.8 1015.2,1141.4 1017.5,1131.2 1019.7,1120.1 1022.0,1108.0 1024.2,1095.0 1026.2,1082.6 1028.2,1069.4 1030.2,1055.5 1032.2,1040.7 1034.2,1025.2 1036.5,1006.7 1038.7,987.4 1041.0,967.1 1043.2,946.0 1045.7,921.5 1048.2,896.2 1051.0,867.5 1054.5,830.0 1064.2,723.3 1067.2,691.2 1069.7,665.2 1072.0,642.6 1074.0,623.3 1076.0,604.8 1077.7,589.5 1079.5,574.9 1081.2,561.3 1082.7,550.4 1084.2,540.2 1085.7,530.8 1087.2,522.2 1088.7,514.5 1090.2,507.7 1091.7,501.7 1093.2,496.8 1094.5,493.3 1095.7,490.6 1097.0,488.5 1099.7,485.6 1101.2,484.3 1102.5,483.9 1103.7,484.2 1105.2,485.4 1108.0,488.2 1109.2,490.1 1110.5,492.8 1111.7,496.1 1113.2,500.9 1114.7,506.7 1116.2,513.4 1117.7,520.9 1119.2,529.4 1120.7,538.7 1122.2,548.7 1123.7,559.5 1125.5,573.1 1127.2,587.5 1129.0,602.7 1131.0,621.1 1133.0,640.3 1135.2,662.8 1137.7,688.7 1140.7,720.7 1145.7,775.4 1151.0,832.9 1154.2,867.7 1157.0,896.4 1159.5,921.7 1162.0,946.1 1164.2,967.2 1166.5,987.5 1168.7,1006.9 1171.0,1025.3 1173.0,1040.8 1175.0,1055.6 1177.0,1069.5 1179.0,1082.7 1181.0,1095.1 1183.2,1108.1 1185.5,1120.2 1187.7,1131.3 1190.0,1141.5 1192.2,1150.9 1194.5,1159.4 1197.0,1168.0 1199.5,1175.7 1202.0,1182.6 1204.7,1189.2 1207.7,1195.5 1210.7,1200.9 1214.0,1205.8 1217.5,1210.2 1219.7,1212.4 1224.2,1215.7 1229.2,1218.5 1235.2,1220.7 1242.5,1222.4 1252.2,1223.6 1262.2,1224.2 1272.2,1224.4 1282.2,1224.5 1292.2,1224.5 1302.2,1224.5 1312.2,1224.5 1322.2,1224.5 1332.2,1224.5 1342.2,1224.5 1352.2,1224.5 1362.2,1224.5 1372.2,1224.5 1382.2,1224.5 1392.2,1224.5 1402.2,1224.5 1412.2,1224.5 1422.2,1224.5 1432.2,1224.5 1442.2,1224.5 1452.2,1224.5 1462.2,1224.5 1472.2,1224.5 1476.0,1224.5 1478.5,1227.0 1478.5,1227.2 1476.0,1229.7 1469.5,1229.7 1459.5,1229.7 1449.5,1229.7 1439.5,1229.7 1429.5,1229.7 1419.5,1229.7 1409.5,1229.7 1399.5,1229.7 1389.5,1229.7 1379.5,1229.7 1369.5,1229.7 1359.5,1229.7 1349.5,1229.7 1339.5,1229.7 1329.5,1229.7 1319.5,1229.7 1309.5,1229.7 1299.5,1229.7 1289.5,1229.7 1279.5,1229.7 1269.5,1229.6 1259.5,1229.3 1249.5,1228.6 1240.5,1227.3 1233.5,1225.4 1227.7,1223.0 1223.0,1220.1 1218.7,1216.7 1212.5,1210.4 1209.0,1206.0 1205.7,1201.1 1202.7,1195.7 1199.7,1189.4 1197.0,1182.8 1194.5,1175.9 1192.0,1168.2 1189.5,1159.6 1187.2,1151.1 1185.0,1141.7 1182.7,1131.5 1180.5,1120.4 1178.2,1108.3 1176.0,1095.3 1174.0,1082.9 1172.0,1069.7 1170.0,1055.8 1168.0,1041.0 1166.0,1025.5 1163.7,1007.1 1161.5,987.7 1159.2,967.4 1157.0,946.3 1154.5,921.9 1152.0,896.6 1149.2,867.9 1146.0,833.1 1140.7,775.6 1135.7,720.9 1132.7,688.9 1130.2,663.0 1128.0,640.5 1126.0,621.3 1124.0,602.9 1122.2,587.7 1120.5,573.3 1118.7,559.7 1117.2,548.9 1115.7,538.9 1114.2,529.6 1112.7,521.1 1111.2,513.6 1109.7,506.9 1108.2,501.1 1106.7,496.3 1105.5,493.0 1104.2,490.3 1103.5,489.2 1102.2,489.1 1101.5,489.5 1100.5,491.3 1099.2,494.2 1098.0,497.7 1096.5,502.9 1095.0,508.9 1093.5,515.9 1092.0,523.8 1090.5,532.5 1089.0,542.0 1087.5,552.3 1086.0,563.4 1084.2,577.2 1082.5,591.8 1080.7,607.3 1078.7,625.8 1076.7,645.2 1074.5,667.9 1072.0,694.0 1068.7,728.9 1061.7,805.6 1057.7,849.1 1054.7,880.9 1052.0,909.2 1049.5,934.1 1047.2,955.7 1045.0,976.4 1042.7,996.3 1040.5,1015.2 1038.5,1031.3 1036.5,1046.5 1034.5,1061.0 1032.5,1074.7 1030.5,1087.6 1028.5,1099.7 1026.2,1112.4 1024.0,1124.1 1021.7,1134.9 1019.5,1144.9 1017.2,1154.0 1015.0,1162.2 1012.5,1170.6 1010.0,1178.0 1007.2,1185.2 1004.5,1191.6 1001.5,1197.6 998.5,1202.7 995.2,1207.3 991.7,1211.5 985.7,1217.4 981.5,1220.6 976.5,1223.4 970.7,1225.7 963.7,1227.5 954.2,1228.7 944.2,1229.3 934.2,1229.6 924.2,1229.7 914.2,1229.7 904.2,1229.7 894.2,1229.7 884.2,1229.7 874.2,1229.7 864.2,1229.7 854.2,1229.7 844.2,1229.7 834.2,1229.7 824.2,1229.7 814.2,1229.7 804.2,1229.7 794.2,1229.7 784.2,1229.7 774.2,1229.7 764.2,1229.7 754.2,1229.7 744.2,1229.7 734.2,1229.7 724.2,1229.7 714.2,1229.7 704.2,1229.7 694.2,1229.7 684.2,1229.7 674.2,1229.7 664.2,1229.7 654.2,1229.7 644.2,1229.7 634.2,1229.7 624.2,1229.7 614.2,1229.7 604.2,1229.7 594.2,1229.7 584.2,1229.7 574.2,1229.7 564.2,1229.7 554.2,1229.7 544.2,1229.7 534.2,1229.7 524.2,1229.7 521.7,1227.2" fill="#15572c"/>
<polygon points="521.7,1227.0 524.2,1224.5 534.2,1224.5 544.2,1224.5 554.2,1224.5 564.2,1224.5 574.2,1224.5 584.2,1224.5 594.2,1224.5 604.2,1224.5 614.2,1224.5 624.2,1224.5 634.2,1224.5 644.2,1224.5 654.2,1224.5 664.2,1224.5 674.2,1224.5 684.2,1224.5 694.2,1224.5 704.2,1224.5 714.2,1224.5 724.2,1224.5 734.2,1224.5 744.2,1224.4 754.2,1224.4 764.2,1224.3 774.2,1224.1 784.2,1223.8 794.2,1223.4 804.2,1222.9 814.2,1222.1 824.2,1220.9 834.2,1219.4 844.2,1217.2 854.2,1214.3 863.7,1210.6 872.2,1206.5 880.2,1201.7 887.7,1196.3 894.7,1190.4 899.7,1185.5 906.2,1178.1 912.7,1169.8 919.0,1161.0 925.2,1151.1 931.5,1140.4 937.7,1128.6 944.0,1116.0 950.5,1101.9 957.2,1086.3 964.5,1068.5 972.7,1047.4 982.7,1020.7 992.7,993.6 1002.7,966.9 1010.2,947.7 1016.7,931.8 1022.5,918.7 1027.7,907.6 1032.7,897.9 1037.5,889.7 1042.0,882.7 1046.5,876.6 1050.7,871.8 1056.5,866.2 1060.7,863.0 1064.7,860.9 1068.7,859.6 1072.7,859.2 1076.7,859.7 1080.7,861.1 1084.7,863.3 1089.0,866.5 1095.5,873.0 1099.7,878.0 1104.2,884.3 1108.7,891.5 1113.5,900.0 1118.5,909.8 1123.7,921.1 1129.5,934.4 1136.0,950.4 1144.0,971.1 1154.0,997.9 1164.0,1025.0 1174.0,1051.5 1182.0,1071.9 1189.2,1089.4 1196.0,1104.9 1202.5,1118.8 1208.7,1131.2 1215.0,1142.7 1221.2,1153.3 1227.5,1162.9 1233.7,1171.6 1240.2,1179.7 1246.7,1186.9 1253.5,1193.1 1260.7,1198.8 1268.5,1203.9 1276.7,1208.5 1285.7,1212.4 1295.7,1215.8 1305.7,1218.3 1315.7,1220.2 1325.7,1221.5 1335.7,1222.5 1345.7,1223.2 1355.7,1223.6 1365.7,1224.0 1375.7,1224.2 1385.7,1224.3 1395.7,1224.4 1405.7,1224.5 1415.7,1224.5 1425.7,1224.5 1435.7,1224.5 1445.7,1224.5 1455.7,1224.5 1465.7,1224.5 1475.7,1224.5 1476.0,1224.5 1478.5,1227.0 1478.5,1227.2 1476.0,1229.7 1470.5,1229.7 1460.5,1229.7 1450.5,1229.7 1440.5,1229.7 1430.5,1229.7 1420.5,1229.7 1410.5,1229.7 1400.5,1229.6 1390.5,1229.6 1380.5,1229.4 1370.5,1229.3 1360.5,1229.0 1350.5,1228.6 1340.5,1228.1 1330.5,1227.2 1320.5,1226.1 1310.5,1224.5 1300.5,1222.3 1290.5,1219.3 1281.0,1215.6 1272.5,1211.4 1264.5,1206.6 1257.0,1201.1 1250.0,1195.2 1241.5,1186.8 1235.0,1179.6 1228.5,1171.5 1222.2,1162.8 1216.0,1153.1 1209.7,1142.5 1203.5,1130.9 1197.2,1118.5 1190.7,1104.5 1184.0,1089.0 1176.7,1071.5 1168.7,1051.1 1158.7,1024.5 1148.7,997.4 1138.7,970.6 1130.7,950.0 1124.2,934.0 1118.5,920.8 1113.2,909.5 1108.2,899.7 1103.5,891.2 1099.0,884.1 1094.5,877.9 1090.2,872.9 1086.5,869.7 1082.2,867.0 1078.2,865.3 1074.2,864.5 1070.2,864.6 1066.2,865.5 1062.2,867.3 1058.0,870.2 1054.5,873.3 1050.2,878.4 1045.7,884.7 1041.2,891.9 1036.5,900.5 1031.5,910.4 1026.2,921.7 1020.5,935.0 1014.0,951.0 1006.0,971.7 996.0,998.6 986.0,1025.6 976.0,1052.1 968.0,1072.5 960.7,1090.0 954.0,1105.4 947.5,1119.3 941.2,1131.7 935.0,1143.2 928.7,1153.8 922.5,1163.4 916.2,1172.0 909.7,1180.1 903.2,1187.2 894.7,1195.6 887.7,1201.5 880.2,1206.9 872.2,1211.7 863.7,1215.8 854.2,1219.5 844.2,1222.4 834.2,1224.6 824.2,1226.1 814.2,1227.3 804.2,1228.1 794.2,1228.6 784.2,1229.0 774.2,1229.3 764.2,1229.5 754.2,1229.6 744.2,1229.6 734.2,1229.7 724.2,1229.7 714.2,1229.7 704.2,1229.7 694.2,1229.7 684.2,1229.7 674.2,1229.7 664.2,1229.7 654.2,1229.7 644.2,1229.7 634.2,1229.7 624.2,1229.7 614.2,1229.7 604.2,1229.7 594.2,1229.7 584.2,1229.7 574.2,1229.7 564.2,1229.7 554.2,1229.7 544.2,1229.7 534.2,1229.7 524.2,1229.7 521.7,1227.2" fill="#6b8e2b"/>
<polygon points="521.7,1227.0 524.2,1224.5 534.2,1224.5 544.2,1224.5 554.2,1224.5 564.2,1224.5 574.2,1224.5 584.2,1224.5 594.2,1224.5 604.2,1224.5 614.2,1224.4 624.2,1224.4 634.2,1224.3 644.2,1224.2 654.2,1224.1 664.2,1223.9 674.2,1223.7 684.2,1223.3 694.2,1222.9 704.2,1222.4 714.2,1221.7 724.2,1220.7 734.2,1219.6 744.2,1218.1 754.2,1216.3 764.2,1214.1 774.2,1211.4 784.2,1208.1 794.2,1204.2 804.2,1199.5 814.2,1194.1 824.2,1187.7 834.0,1180.7 843.7,1172.6 853.2,1163.9 861.7,1155.1 871.5,1144.1 881.5,1131.9 891.5,1118.7 901.5,1104.8 911.5,1090.3 921.5,1075.3 931.5,1060.2 941.5,1045.0 951.5,1030.2 961.5,1016.0 971.0,1003.3 979.5,992.9 987.2,984.2 997.0,974.5 1004.0,968.4 1010.7,963.4 1017.5,959.3 1024.0,956.4 1030.5,954.3 1036.7,953.3 1043.0,953.1 1049.2,953.9 1055.7,955.6 1062.2,958.3 1068.7,961.9 1075.5,966.5 1082.5,972.3 1090.0,979.5 1097.7,987.6 1105.7,996.9 1114.7,1008.4 1124.7,1022.1 1134.7,1036.7 1144.7,1051.6 1154.7,1066.8 1164.7,1081.9 1174.7,1096.7 1184.7,1111.0 1194.7,1124.6 1204.7,1137.3 1214.5,1148.9 1224.0,1159.2 1231.7,1166.9 1241.2,1175.3 1251.0,1183.0 1261.0,1190.0 1271.0,1196.0 1281.0,1201.2 1291.0,1205.6 1301.0,1209.3 1311.0,1212.4 1321.0,1214.9 1331.0,1217.0 1341.0,1218.7 1351.0,1220.0 1361.0,1221.1 1371.0,1221.9 1381.0,1222.6 1391.0,1223.1 1401.0,1223.5 1411.0,1223.7 1421.0,1224.0 1431.0,1224.1 1441.0,1224.2 1451.0,1224.3 1461.0,1224.4 1471.0,1224.4 1476.0,1224.5 1478.5,1227.0 1478.5,1227.2 1476.0,1229.7 1471.7,1229.6 1461.7,1229.6 1451.7,1229.5 1441.7,1229.5 1431.7,1229.3 1421.7,1229.2 1411.7,1229.0 1401.7,1228.7 1391.7,1228.3 1381.7,1227.8 1371.7,1227.2 1361.7,1226.3 1351.7,1225.3 1341.7,1224.0 1331.7,1222.3 1321.7,1220.3 1311.7,1217.8 1301.7,1214.7 1291.7,1211.1 1281.7,1206.7 1271.7,1201.6 1261.7,1195.7 1251.7,1188.8 1242.0,1181.1 1232.5,1172.8 1222.5,1163.0 1213.0,1153.0 1203.2,1141.8 1193.2,1129.3 1183.2,1116.0 1173.2,1102.0 1163.2,1087.3 1153.2,1072.3 1143.2,1057.1 1133.2,1042.1 1123.2,1027.4 1113.2,1013.3 1104.0,1001.2 1095.7,991.2 1088.0,982.7 1081.2,976.4 1074.2,970.8 1067.5,966.3 1061.0,962.9 1054.5,960.4 1048.2,958.9 1042.0,958.3 1035.7,958.6 1029.5,959.8 1023.0,962.0 1016.5,965.1 1009.7,969.3 1003.0,974.4 996.0,980.6 989.7,987.1 981.7,996.4 973.0,1007.4 963.0,1021.1 953.0,1035.6 943.0,1050.5 933.0,1065.7 923.0,1080.8 913.0,1095.6 903.0,1110.0 893.0,1123.6 883.0,1136.5 873.0,1148.4 863.2,1159.1 853.2,1169.1 843.7,1177.8 834.0,1185.9 824.2,1192.9 814.2,1199.3 804.2,1204.7 794.2,1209.4 784.2,1213.3 774.2,1216.6 764.2,1219.3 754.2,1221.5 744.2,1223.3 734.2,1224.8 724.2,1225.9 714.2,1226.9 704.2,1227.6 694.2,1228.1 684.2,1228.5 674.2,1228.9 664.2,1229.1 654.2,1229.3 644.2,1229.4 634.2,1229.5 624.2,1229.6 614.2,1229.6 604.2,1229.7 594.2,1229.7 584.2,1229.7 574.2,1229.7 564.2,1229.7 554.2,1229.7 544.2,1229.7 534.2,1229.7 524.2,1229.7 521.7,1227.2" fill="#e9c32a"/>
<polygon points="521.7,1227.0 524.2,1224.5 534.2,1224.5 544.2,1224.4 554.2,1224.4 564.2,1224.3 574.2,1224.2 584.2,1224.1 594.2,1224.0 604.2,1223.8 614.2,1223.6 624.2,1223.4 634.2,1223.0 644.2,1222.6 654.2,1222.1 664.2,1221.4 674.2,1220.6 684.2,1219.6 694.2,1218.4 704.2,1217.0 714.2,1215.3 724.2,1213.2 734.2,1210.8 744.2,1208.1 754.2,1204.8 764.2,1201.1 774.2,1196.9 784.2,1192.1 794.2,1186.8 804.2,1180.8 814.2,1174.1 824.2,1166.9 834.2,1158.9 844.2,1150.4 854.2,1141.3 864.2,1131.6 874.2,1121.4 884.2,1110.8 894.2,1099.9 904.2,1088.8 914.2,1077.8 924.2,1066.8 934.2,1056.1 944.2,1045.9 954.2,1036.0 964.2,1026.9 974.2,1018.6 983.7,1011.6 992.7,1005.9 1001.5,1001.3 1010.0,997.8 1018.2,995.4 1026.2,993.9 1034.2,993.3 1042.2,993.7 1050.2,994.9 1058.5,997.2 1066.7,1000.4 1075.2,1004.6 1084.0,1009.9 1093.2,1016.4 1103.2,1024.4 1113.2,1033.3 1123.2,1043.0 1133.2,1053.1 1143.2,1063.7 1153.2,1074.6 1163.2,1085.7 1173.2,1096.7 1183.2,1107.7 1193.2,1118.4 1203.2,1128.7 1213.2,1138.6 1223.2,1147.9 1233.2,1156.6 1243.2,1164.7 1253.2,1172.1 1263.2,1178.9 1273.2,1185.1 1283.2,1190.7 1293.2,1195.6 1303.2,1200.0 1313.2,1203.8 1323.2,1207.2 1333.2,1210.1 1343.2,1212.6 1353.2,1214.7 1363.2,1216.5 1373.2,1218.0 1383.2,1219.3 1393.2,1220.3 1403.2,1221.2 1413.2,1221.9 1423.2,1222.4 1433.2,1222.9 1443.2,1223.3 1453.2,1223.6 1463.2,1223.8 1473.2,1224.0 1476.0,1224.0 1478.5,1226.5 1478.5,1226.7 1476.0,1229.2 1473.2,1229.2 1463.2,1229.0 1453.2,1228.8 1443.2,1228.5 1433.2,1228.1 1423.2,1227.6 1413.2,1227.1 1403.2,1226.4 1393.2,1225.5 1383.2,1224.5 1373.2,1223.2 1363.2,1221.7 1353.2,1219.9 1343.2,1217.8 1333.2,1215.3 1323.2,1212.4 1313.2,1209.0 1303.2,1205.2 1293.2,1200.8 1283.2,1195.9 1273.2,1190.3 1263.2,1184.1 1253.2,1177.3 1243.2,1169.9 1233.2,1161.8 1223.2,1153.1 1213.2,1143.8 1203.2,1134.0 1193.2,1123.8 1183.2,1113.3 1173.2,1102.4 1163.2,1091.4 1153.2,1080.3 1143.2,1069.3 1133.2,1058.6 1123.2,1048.2 1113.2,1038.5 1103.2,1029.6 1093.2,1021.6 1084.0,1015.1 1075.2,1009.8 1066.7,1005.6 1058.5,1002.4 1050.2,1000.1 1042.2,998.9 1034.2,998.5 1026.2,999.1 1018.2,1000.6 1010.0,1003.0 1001.5,1006.5 992.7,1011.1 983.7,1016.8 974.2,1023.8 964.2,1032.1 954.2,1041.2 944.2,1051.1 934.2,1061.6 924.2,1072.5 914.2,1083.5 904.2,1094.6 894.2,1105.6 884.2,1116.3 874.2,1126.8 864.2,1136.8 854.2,1146.5 844.2,1155.6 834.2,1164.1 824.2,1172.1 814.2,1179.3 804.2,1186.0 794.2,1192.0 784.2,1197.3 774.2,1202.1 764.2,1206.3 754.2,1210.0 744.2,1213.3 734.2,1216.0 724.2,1218.4 714.2,1220.5 704.2,1222.2 694.2,1223.6 684.2,1224.8 674.2,1225.8 664.2,1226.6 654.2,1227.3 644.2,1227.8 634.2,1228.2 624.2,1228.6 614.2,1228.8 604.2,1229.0 594.2,1229.2 584.2,1229.3 574.2,1229.4 564.2,1229.5 554.2,1229.6 544.2,1229.6 534.2,1229.7 524.2,1229.7 521.7,1227.2" fill="#f47b29"/>
<polygon points="521.7,1225.2 524.2,1222.7 534.2,1222.4 544.2,1221.9 554.2,1221.3 564.2,1220.7 574.2,1220.0 584.2,1219.1 594.2,1218.1 604.2,1216.9 614.2,1215.6 624.2,1214.1 634.2,1212.3 644.2,1210.4 654.2,1208.2 664.2,1205.7 674.2,1202.9 684.2,1199.9 694.2,1196.5 704.2,1192.8 714.2,1188.8 724.2,1184.4 734.2,1179.7 744.2,1174.6 754.2,1169.2 764.2,1163.4 774.2,1157.3 784.2,1150.9 794.2,1144.2 804.2,1137.3 814.2,1130.2 824.2,1123.0 834.2,1115.6 844.2,1108.2 854.2,1100.7 864.2,1093.4 874.2,1086.2 884.2,1079.2 894.2,1072.5 904.2,1066.1 914.2,1060.1 924.2,1054.7 934.2,1049.7 944.2,1045.4 954.2,1041.7 964.2,1038.7 974.2,1036.5 984.2,1035.0 994.2,1034.2 1004.2,1034.3 1014.2,1035.2 1024.2,1036.8 1034.2,1039.2 1044.2,1042.3 1054.2,1046.1 1064.2,1050.6 1074.2,1055.6 1084.2,1061.2 1094.2,1067.2 1104.2,1073.6 1114.2,1080.4 1124.2,1087.5 1134.2,1094.7 1144.2,1102.1 1154.2,1109.5 1164.2,1116.9 1174.2,1124.3 1184.2,1131.5 1194.2,1138.6 1204.2,1145.4 1214.2,1152.1 1224.2,1158.4 1234.2,1164.4 1244.2,1170.2 1254.2,1175.5 1264.2,1180.5 1274.2,1185.2 1284.2,1189.5 1294.2,1193.5 1304.2,1197.2 1314.2,1200.5 1324.2,1203.5 1334.2,1206.2 1344.2,1208.6 1354.2,1210.7 1364.2,1212.7 1374.2,1214.4 1384.2,1215.8 1394.2,1217.1 1404.2,1218.3 1414.2,1219.3 1424.2,1220.1 1434.2,1220.8 1444.2,1221.5 1454.2,1222.0 1464.2,1222.4 1474.2,1222.8 1476.0,1222.9 1478.5,1225.4 1478.5,1225.6 1476.0,1228.1 1474.2,1228.0 1464.2,1227.6 1454.2,1227.2 1444.2,1226.7 1434.2,1226.0 1424.2,1225.3 1414.2,1224.5 1404.2,1223.5 1394.2,1222.3 1384.2,1221.0 1374.2,1219.6 1364.2,1217.9 1354.2,1215.9 1344.2,1213.8 1334.2,1211.4 1324.2,1208.7 1314.2,1205.7 1304.2,1202.4 1294.2,1198.7 1284.2,1194.7 1274.2,1190.4 1264.2,1185.7 1254.2,1180.7 1244.2,1175.4 1234.2,1169.6 1224.2,1163.6 1214.2,1157.3 1204.2,1150.6 1194.2,1143.8 1184.2,1136.7 1174.2,1129.5 1164.2,1122.1 1154.2,1114.7 1144.2,1107.3 1134.2,1099.9 1124.2,1092.7 1114.2,1085.6 1104.2,1078.8 1094.2,1072.4 1084.2,1066.4 1074.2,1060.8 1064.2,1055.8 1054.2,1051.3 1044.2,1047.5 1034.2,1044.4 1024.2,1042.0 1014.2,1040.4 1004.2,1039.5 994.2,1039.4 984.2,1040.2 974.2,1041.7 964.2,1043.9 954.2,1046.9 944.2,1050.6 934.2,1054.9 924.2,1059.9 914.2,1065.3 904.2,1071.3 894.2,1077.7 884.2,1084.4 874.2,1091.4 864.2,1098.6 854.2,1105.9 844.2,1113.4 834.2,1120.8 824.2,1128.2 814.2,1135.4 804.2,1142.5 794.2,1149.4 784.2,1156.1 774.2,1162.5 764.2,1168.6 754.2,1174.4 744.2,1179.8 734.2,1184.9 724.2,1189.6 714.2,1194.0 704.2,1198.0 694.2,1201.7 684.2,1205.1 674.2,1208.1 664.2,1210.9 654.2,1213.4 644.2,1215.6 634.2,1217.5 624.2,1219.3 614.2,1220.8 604.2,1222.1 594.2,1223.3 584.2,1224.3 574.2,1225.2 564.2,1225.9 554.2,1226.5 544.2,1227.1 534.2,1227.6 524.2,1227.9 521.7,1225.4" fill="#ff0022"/>
<g id="legend">
<rect x="285.0" y="42.0" width="26" height="26" fill="#15572c"/>
<text filter="url(#hb)" x="381.5" y="75.0">2mm</text>
<rect x="555" y="52.1" width="146" height="5.5" fill="#15572c"/>
<text filter="url(#hb)" x="728.5" y="75.0">σ=3.55E-4, μ=1.13E-4</text>
<circle cx="298.0" cy="140.0" r="14.5" fill="#6b8e2b"/>
<text filter="url(#hb)" x="381.5" y="160.0">4mm</text>
<rect x="555" y="137.1" width="146" height="5.5" fill="#6b8e2b"/>
<text filter="url(#hb)" x="728.5" y="160.0">σ=7.10E-4, μ=-1.75E-5</text>
<polygon points="298.0,204.6 315.9,235.3 280.1,235.3" fill="#e9c32a"/>
<text filter="url(#hb)" x="381.5" y="245.0">6mm</text>
<rect x="555" y="222.1" width="146" height="5.5" fill="#e9c32a"/>
<text filter="url(#hb)" x="728.5" y="245.0">σ=9.42E-4, μ=-1.55E-4</text>
<polygon points="298.0,330.0 315.9,299.9 280.1,299.9" fill="#f47b29"/>
<text filter="url(#hb)" x="381.5" y="330.0">8mm</text>
<rect x="555" y="307.1" width="146" height="5.5" fill="#f47b29"/>
<text filter="url(#hb)" x="728.5" y="330.0">σ=1.10E-3, μ=-1.80E-4</text>
<polygon points="298.0,376.5 316.3,395.0 298.0,413.5 279.7,395.0" fill="#ff0022"/>
<text filter="url(#hb)" x="381.5" y="415.0">10mm</text>
<rect x="555" y="392.1" width="146" height="5.5" fill="#ff0022"/>
<text filter="url(#hb)" x="728.5" y="415.0">σ=1.35E-3, μ=-3.40E-4</text>
</g>
</svg></body></html>
